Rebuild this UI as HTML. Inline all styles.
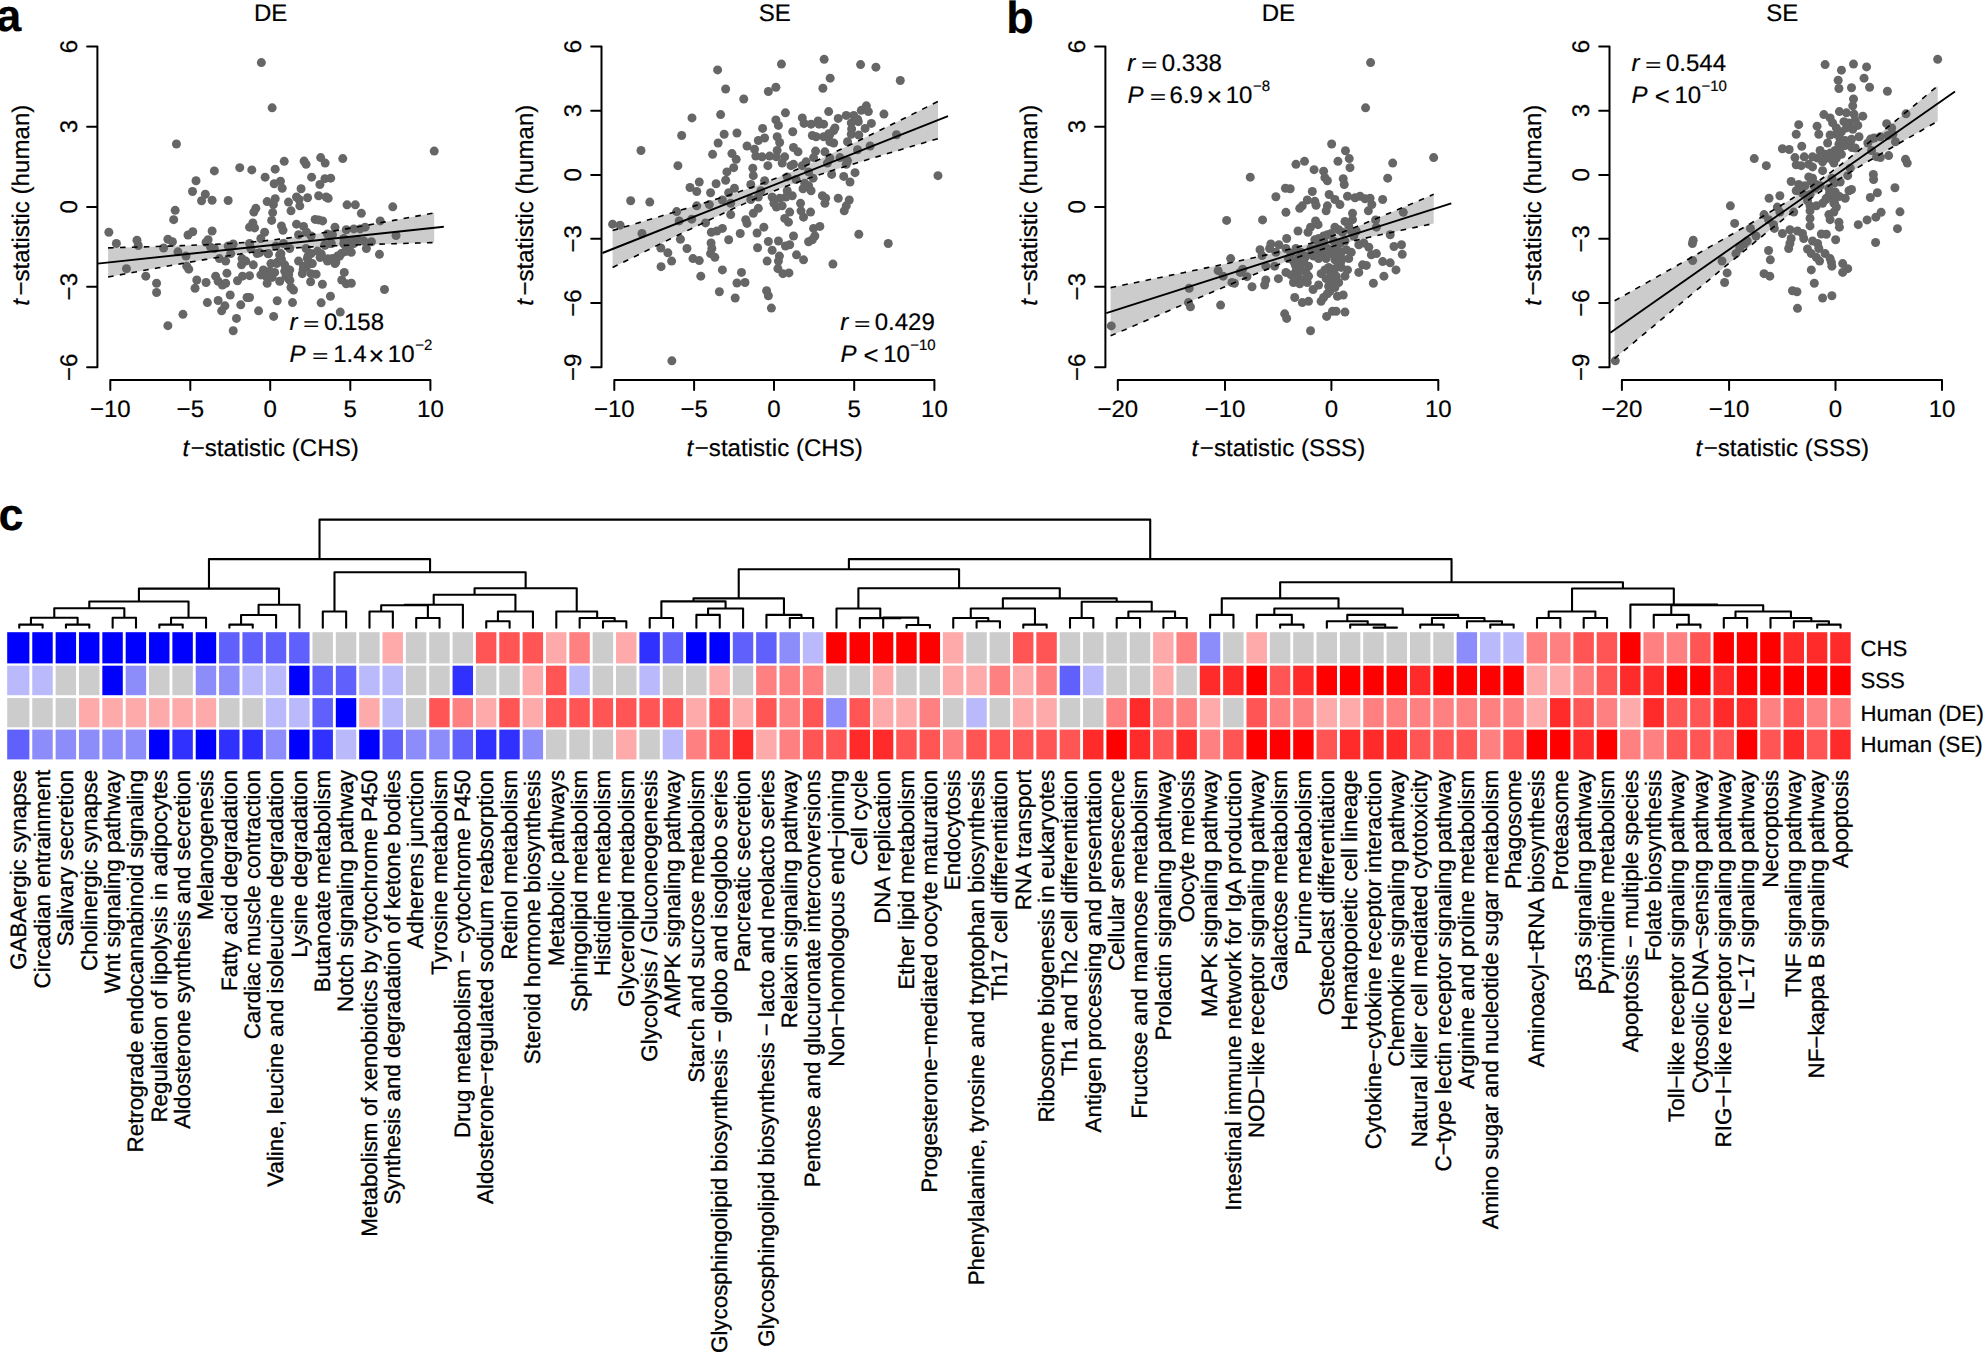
<!DOCTYPE html>
<html><head><meta charset="utf-8"><title>Figure</title>
<style>html,body{margin:0;padding:0;background:#fff;overflow:hidden}svg{display:block}text{stroke:#000;stroke-width:.2px}.lab text{stroke-width:.3px}</style></head>
<body>
<svg width="1986" height="1353" viewBox="0 0 1986 1353" font-family='"Liberation Sans", sans-serif' font-size="24" fill="#000" text-rendering="geometricPrecision">
<rect width="1986" height="1353" fill="#fff"/>
<g id="aDE">
<polygon points="108.1,247.86 116.25,247.64 124.41,247.42 132.56,247.19 140.71,246.95 148.86,246.71 157.01,246.46 165.17,246.2 173.32,245.93 181.47,245.65 189.62,245.34 197.78,245.02 205.93,244.68 214.08,244.3 222.24,243.89 230.39,243.43 238.54,242.92 246.69,242.34 254.84,241.68 263,240.93 271.15,240.09 279.3,239.16 287.46,238.13 295.61,237.02 303.76,235.84 311.91,234.59 320.06,233.3 328.22,231.96 336.37,230.58 344.52,229.18 352.67,227.76 360.83,226.31 368.98,224.86 377.13,223.39 385.29,221.9 393.44,220.41 401.59,218.91 409.74,217.41 417.89,215.9 426.05,214.38 434.2,212.87 434.2,242.58 426.05,242.8 417.89,243.02 409.74,243.25 401.59,243.48 393.44,243.72 385.29,243.97 377.13,244.22 368.98,244.49 360.83,244.77 352.67,245.06 344.52,245.38 336.37,245.71 328.22,246.07 320.06,246.47 311.91,246.91 303.76,247.4 295.61,247.96 287.46,248.58 279.3,249.3 271.15,250.1 263,251 254.84,251.99 246.69,253.07 238.54,254.23 230.39,255.45 222.24,256.73 214.08,258.05 205.93,259.41 197.78,260.81 189.62,262.22 181.47,263.66 173.32,265.11 165.17,266.58 157.01,268.06 148.86,269.54 140.71,271.04 132.56,272.54 124.41,274.05 116.25,275.56 108.1,277.08" fill="#cccccc"/>
<g fill="#666666">
<circle cx="261.36" cy="62.61" r="4.5"/><circle cx="272.16" cy="107.84" r="4.5"/><circle cx="176.43" cy="144.02" r="4.5"/><circle cx="434.22" cy="151.06" r="4.5"/><circle cx="342.76" cy="158.59" r="4.5"/><circle cx="320.65" cy="157.59" r="4.5"/><circle cx="325.18" cy="163.12" r="4.5"/><circle cx="304.07" cy="161.11" r="4.5"/><circle cx="306.08" cy="164.37" r="4.5"/><circle cx="284.22" cy="161.36" r="4.5"/><circle cx="275.18" cy="169.15" r="4.5"/><circle cx="239.75" cy="167.64" r="4.5"/><circle cx="251.81" cy="169.9" r="4.5"/><circle cx="214.37" cy="170.9" r="4.5"/><circle cx="196.03" cy="180.7" r="4.5"/><circle cx="265.13" cy="177.19" r="4.5"/><circle cx="280.45" cy="181.21" r="4.5"/><circle cx="274.17" cy="183.72" r="4.5"/><circle cx="282.21" cy="188.24" r="4.5"/><circle cx="311.61" cy="177.19" r="4.5"/><circle cx="324.92" cy="178.69" r="4.5"/><circle cx="330.7" cy="178.19" r="4.5"/><circle cx="319.9" cy="184.47" r="4.5"/><circle cx="301.06" cy="188.74" r="4.5"/><circle cx="192.51" cy="191.51" r="4.5"/><circle cx="205.33" cy="194.27" r="4.5"/><circle cx="201.56" cy="200.8" r="4.5"/><circle cx="212.11" cy="200.3" r="4.5"/><circle cx="228.19" cy="200.55" r="4.5"/><circle cx="275.18" cy="198.79" r="4.5"/><circle cx="267.14" cy="201.56" r="4.5"/><circle cx="273.42" cy="204.57" r="4.5"/><circle cx="288.49" cy="202.06" r="4.5"/><circle cx="296.53" cy="197.04" r="4.5"/><circle cx="299.05" cy="199.55" r="4.5"/><circle cx="307.59" cy="197.79" r="4.5"/><circle cx="299.8" cy="205.83" r="4.5"/><circle cx="318.64" cy="195.78" r="4.5"/><circle cx="326.18" cy="197.04" r="4.5"/><circle cx="328.19" cy="198.29" r="4.5"/><circle cx="347.04" cy="204.82" r="4.5"/><circle cx="355.33" cy="204.82" r="4.5"/><circle cx="392.76" cy="206.83" r="4.5"/><circle cx="361.36" cy="213.37" r="4.5"/><circle cx="255.83" cy="208.34" r="4.5"/><circle cx="253.82" cy="212.11" r="4.5"/><circle cx="272.66" cy="212.61" r="4.5"/><circle cx="291.01" cy="210.85" r="4.5"/><circle cx="175.18" cy="210.35" r="4.5"/><circle cx="173.67" cy="219.65" r="4.5"/><circle cx="271.66" cy="220.4" r="4.5"/><circle cx="315.13" cy="219.4" r="4.5"/><circle cx="318.64" cy="219.9" r="4.5"/><circle cx="322.66" cy="220.9" r="4.5"/><circle cx="296.53" cy="224.17" r="4.5"/><circle cx="303.57" cy="226.43" r="4.5"/><circle cx="281.46" cy="225.93" r="4.5"/><circle cx="282.96" cy="230.2" r="4.5"/><circle cx="252.81" cy="222.91" r="4.5"/><circle cx="249.55" cy="227.19" r="4.5"/><circle cx="254.57" cy="227.94" r="4.5"/><circle cx="380.2" cy="220.9" r="4.5"/><circle cx="334.97" cy="227.19" r="4.5"/><circle cx="365.13" cy="227.19" r="4.5"/><circle cx="346.28" cy="229.7" r="4.5"/><circle cx="353.82" cy="228.94" r="4.5"/><circle cx="360.1" cy="228.94" r="4.5"/><circle cx="108.84" cy="232.21" r="4.5"/><circle cx="116.38" cy="243.52" r="4.5"/><circle cx="136.98" cy="240.25" r="4.5"/><circle cx="138.24" cy="245.53" r="4.5"/><circle cx="167.89" cy="239.25" r="4.5"/><circle cx="172.41" cy="241.76" r="4.5"/><circle cx="163.62" cy="248.04" r="4.5"/><circle cx="192.76" cy="231.71" r="4.5"/><circle cx="187.99" cy="234.97" r="4.5"/><circle cx="212.11" cy="230.95" r="4.5"/><circle cx="208.09" cy="239.75" r="4.5"/><circle cx="206.08" cy="242.26" r="4.5"/><circle cx="264.62" cy="232.21" r="4.5"/><circle cx="260.85" cy="238.49" r="4.5"/><circle cx="298.54" cy="234.72" r="4.5"/><circle cx="306.58" cy="232.21" r="4.5"/><circle cx="311.11" cy="235.98" r="4.5"/><circle cx="327.44" cy="233.97" r="4.5"/><circle cx="332.46" cy="234.72" r="4.5"/><circle cx="343.77" cy="238.49" r="4.5"/><circle cx="351.31" cy="241.01" r="4.5"/><circle cx="357.59" cy="239.75" r="4.5"/><circle cx="363.87" cy="241.01" r="4.5"/><circle cx="371.41" cy="241.76" r="4.5"/><circle cx="396.03" cy="235.48" r="4.5"/><circle cx="366.38" cy="248.54" r="4.5"/><circle cx="379.45" cy="254.32" r="4.5"/><circle cx="177.94" cy="251.81" r="4.5"/><circle cx="185.98" cy="256.08" r="4.5"/><circle cx="126.43" cy="268.64" r="4.5"/><circle cx="188.74" cy="269.15" r="4.5"/><circle cx="186.73" cy="266.13" r="4.5"/><circle cx="145.78" cy="276.18" r="4.5"/><circle cx="156.58" cy="283.22" r="4.5"/><circle cx="156.58" cy="292.51" r="4.5"/><circle cx="196.78" cy="279.95" r="4.5"/><circle cx="195.03" cy="288.24" r="4.5"/><circle cx="206.08" cy="282.46" r="4.5"/><circle cx="215.63" cy="276.18" r="4.5"/><circle cx="218.14" cy="281.21" r="4.5"/><circle cx="222.41" cy="284.97" r="4.5"/><circle cx="225.68" cy="283.22" r="4.5"/><circle cx="226.93" cy="273.17" r="4.5"/><circle cx="219.4" cy="258.59" r="4.5"/><circle cx="225.68" cy="261.11" r="4.5"/><circle cx="230.7" cy="253.57" r="4.5"/><circle cx="228.19" cy="246.03" r="4.5"/><circle cx="233.22" cy="244.02" r="4.5"/><circle cx="214.37" cy="248.54" r="4.5"/><circle cx="210.6" cy="247.29" r="4.5"/><circle cx="242.01" cy="258.59" r="4.5"/><circle cx="245.78" cy="261.11" r="4.5"/><circle cx="241.51" cy="264.87" r="4.5"/><circle cx="253.32" cy="264.87" r="4.5"/><circle cx="250.8" cy="248.54" r="4.5"/><circle cx="257.09" cy="253.57" r="4.5"/><circle cx="249.55" cy="243.52" r="4.5"/><circle cx="268.39" cy="253.57" r="4.5"/><circle cx="275.93" cy="246.03" r="4.5"/><circle cx="280.95" cy="253.57" r="4.5"/><circle cx="283.47" cy="243.52" r="4.5"/><circle cx="289.75" cy="248.54" r="4.5"/><circle cx="270.9" cy="263.62" r="4.5"/><circle cx="277.19" cy="262.36" r="4.5"/><circle cx="284.72" cy="264.87" r="4.5"/><circle cx="263.37" cy="269.9" r="4.5"/><circle cx="269.65" cy="271.16" r="4.5"/><circle cx="274.67" cy="272.41" r="4.5"/><circle cx="260.85" cy="274.92" r="4.5"/><circle cx="265.88" cy="276.18" r="4.5"/><circle cx="272.16" cy="277.44" r="4.5"/><circle cx="284.72" cy="271.16" r="4.5"/><circle cx="289.75" cy="269.9" r="4.5"/><circle cx="285.98" cy="276.18" r="4.5"/><circle cx="279.7" cy="281.21" r="4.5"/><circle cx="288.49" cy="278.69" r="4.5"/><circle cx="267.14" cy="283.22" r="4.5"/><circle cx="291.01" cy="287.49" r="4.5"/><circle cx="293.52" cy="290" r="4.5"/><circle cx="237.49" cy="280.7" r="4.5"/><circle cx="242.51" cy="276.18" r="4.5"/><circle cx="249.55" cy="275.68" r="4.5"/><circle cx="298.54" cy="261.11" r="4.5"/><circle cx="303.57" cy="266.13" r="4.5"/><circle cx="307.34" cy="258.59" r="4.5"/><circle cx="312.36" cy="263.62" r="4.5"/><circle cx="306.08" cy="248.54" r="4.5"/><circle cx="311.11" cy="253.57" r="4.5"/><circle cx="317.39" cy="251.06" r="4.5"/><circle cx="321.16" cy="256.08" r="4.5"/><circle cx="327.44" cy="261.11" r="4.5"/><circle cx="332.46" cy="258.59" r="4.5"/><circle cx="337.49" cy="256.08" r="4.5"/><circle cx="334.97" cy="263.62" r="4.5"/><circle cx="341.26" cy="253.57" r="4.5"/><circle cx="346.28" cy="251.06" r="4.5"/><circle cx="351.31" cy="252.31" r="4.5"/><circle cx="343.77" cy="243.52" r="4.5"/><circle cx="348.79" cy="246.03" r="4.5"/><circle cx="353.82" cy="243.52" r="4.5"/><circle cx="331.21" cy="243.52" r="4.5"/><circle cx="324.92" cy="244.77" r="4.5"/><circle cx="302.31" cy="273.67" r="4.5"/><circle cx="311.11" cy="273.67" r="4.5"/><circle cx="316.13" cy="274.17" r="4.5"/><circle cx="310.6" cy="281.71" r="4.5"/><circle cx="322.41" cy="284.22" r="4.5"/><circle cx="344.27" cy="272.41" r="4.5"/><circle cx="341.76" cy="279.95" r="4.5"/><circle cx="346.28" cy="283.72" r="4.5"/><circle cx="351.31" cy="283.22" r="4.5"/><circle cx="384.47" cy="289.5" r="4.5"/><circle cx="330.45" cy="296.28" r="4.5"/><circle cx="321.16" cy="302.81" r="4.5"/><circle cx="292.51" cy="302.56" r="4.5"/><circle cx="277.19" cy="300.8" r="4.5"/><circle cx="230.2" cy="295.03" r="4.5"/><circle cx="247.04" cy="297.54" r="4.5"/><circle cx="249.55" cy="297.54" r="4.5"/><circle cx="240.75" cy="304.82" r="4.5"/><circle cx="218.14" cy="300.55" r="4.5"/><circle cx="224.92" cy="305.83" r="4.5"/><circle cx="221.66" cy="310.85" r="4.5"/><circle cx="207.34" cy="302.56" r="4.5"/><circle cx="182.96" cy="314.37" r="4.5"/><circle cx="167.89" cy="325.68" r="4.5"/><circle cx="236.48" cy="318.39" r="4.5"/><circle cx="233.22" cy="330.7" r="4.5"/><circle cx="258.59" cy="310.85" r="4.5"/><circle cx="273.67" cy="316.38" r="4.5"/><circle cx="340.25" cy="312.11" r="4.5"/><circle cx="279.61" cy="255.05" r="4.5"/><circle cx="281.42" cy="259.27" r="4.5"/><circle cx="276.59" cy="263.5" r="4.5"/><circle cx="286.25" cy="268.34" r="4.5"/><circle cx="288.67" cy="274.38" r="4.5"/><circle cx="289.88" cy="280.42" r="4.5"/><circle cx="308.01" cy="256.25" r="4.5"/><circle cx="310.42" cy="263.5" r="4.5"/><circle cx="306.19" cy="267.13" r="4.5"/><circle cx="303.17" cy="269.55" r="4.5"/><circle cx="321.3" cy="253.84" r="4.5"/><circle cx="320.09" cy="257.46" r="4.5"/><circle cx="327.95" cy="258.67" r="4.5"/><circle cx="335.8" cy="262.3" r="4.5"/><circle cx="339.43" cy="256.25" r="4.5"/><circle cx="345.47" cy="251.42" r="4.5"/><circle cx="349.09" cy="247.79" r="4.5"/><circle cx="344.26" cy="244.17" r="4.5"/><circle cx="352.72" cy="241.15" r="4.5"/><circle cx="324.92" cy="245.38" r="4.5"/><circle cx="330.97" cy="243.56" r="4.5"/><circle cx="259.67" cy="252.63" r="4.5"/><circle cx="268.13" cy="253.84" r="4.5"/>
</g>
<path d="M108.1 247.86 L116.25 247.64 L124.41 247.42 L132.56 247.19 L140.71 246.95 L148.86 246.71 L157.01 246.46 L165.17 246.2 L173.32 245.93 L181.47 245.65 L189.62 245.34 L197.78 245.02 L205.93 244.68 L214.08 244.3 L222.24 243.89 L230.39 243.43 L238.54 242.92 L246.69 242.34 L254.84 241.68 L263 240.93 L271.15 240.09 L279.3 239.16 L287.46 238.13 L295.61 237.02 L303.76 235.84 L311.91 234.59 L320.06 233.3 L328.22 231.96 L336.37 230.58 L344.52 229.18 L352.67 227.76 L360.83 226.31 L368.98 224.86 L377.13 223.39 L385.29 221.9 L393.44 220.41 L401.59 218.91 L409.74 217.41 L417.89 215.9 L426.05 214.38 L434.2 212.87" fill="none" stroke="#000" stroke-width="1.6" stroke-dasharray="5.6 6.3"/>
<path d="M108.1 277.08 L116.25 275.56 L124.41 274.05 L132.56 272.54 L140.71 271.04 L148.86 269.54 L157.01 268.06 L165.17 266.58 L173.32 265.11 L181.47 263.66 L189.62 262.22 L197.78 260.81 L205.93 259.41 L214.08 258.05 L222.24 256.73 L230.39 255.45 L238.54 254.23 L246.69 253.07 L254.84 251.99 L263 251 L271.15 250.1 L279.3 249.3 L287.46 248.58 L295.61 247.96 L303.76 247.4 L311.91 246.91 L320.06 246.47 L328.22 246.07 L336.37 245.71 L344.52 245.38 L352.67 245.06 L360.83 244.77 L368.98 244.49 L377.13 244.22 L385.29 243.97 L393.44 243.72 L401.59 243.48 L409.74 243.25 L417.89 243.02 L426.05 242.8 L434.2 242.58" fill="none" stroke="#000" stroke-width="1.6" stroke-dasharray="5.6 6.3"/>
<line x1="97.5" y1="263.6" x2="443.8" y2="226.7" stroke="#000" stroke-width="1.9"/>
<path d="M87.1 46.5 H97.4 V367.3 H87.1 M87.1 126.7 H97.4 M87.1 206.9 H97.4 M87.1 286.7 H97.4 M110.3 389.9 V379.9 H430.4 V389.9 M190.3 379.9 V389.9 M270.2 379.9 V389.9 M350.3 379.9 V389.9" fill="none" stroke="#000" stroke-width="2" stroke-linejoin="round" stroke-linecap="round"/>
<text x="110.3" y="416.5" text-anchor="middle">−10</text>
<text x="190.3" y="416.5" text-anchor="middle">−5</text>
<text x="270.2" y="416.5" text-anchor="middle">0</text>
<text x="350.3" y="416.5" text-anchor="middle">5</text>
<text x="430.4" y="416.5" text-anchor="middle">10</text>
<text transform="translate(77.2 46.5) rotate(-90)" text-anchor="middle">6</text>
<text transform="translate(77.2 126.7) rotate(-90)" text-anchor="middle">3</text>
<text transform="translate(77.2 206.9) rotate(-90)" text-anchor="middle">0</text>
<text transform="translate(77.2 286.7) rotate(-90)" text-anchor="middle">−3</text>
<text transform="translate(77.2 367.3) rotate(-90)" text-anchor="middle">−6</text>
<text x="270.6" y="20.6" text-anchor="middle">DE</text>
<text x="182.5" y="456.3" font-size="24.1" font-style="italic">t</text>
<text x="190.75" y="456.3" font-size="24.1">−statistic (CHS)</text>
<text transform="translate(29.3 305.68) rotate(-90)" font-size="24.1" font-style="italic">t</text>
<text transform="translate(29.3 295.5) rotate(-90)" font-size="24.1">−statistic (human)</text>
<text x="289.38" y="329.6" font-style="italic">r</text>
<text transform="translate(303.33 329.6) scale(1.52 1)" font-size="18">=</text>
<text x="323.94" y="329.6">0.158</text>
<text x="289.58" y="361.8" font-style="italic">P</text>
<text transform="translate(312.13 361.8) scale(1.52 1)" font-size="18">=</text>
<text x="333.2" y="361.8">1.4</text>
<text x="368.51" y="364.8" font-size="27">×</text>
<text x="387.8" y="361.8">10</text>
<text x="415.15" y="349.7" font-size="15">−2</text>
</g>
<g id="aSE">
<polygon points="612.6,230.44 620.74,228.05 628.87,225.65 637,223.24 645.14,220.83 653.27,218.41 661.41,215.98 669.55,213.54 677.68,211.09 685.82,208.62 693.95,206.13 702.09,203.62 710.22,201.08 718.36,198.51 726.49,195.89 734.62,193.22 742.76,190.48 750.89,187.65 759.03,184.73 767.16,181.69 775.3,178.53 783.43,175.24 791.57,171.83 799.71,168.3 807.84,164.68 815.98,160.97 824.11,157.2 832.25,153.37 840.38,149.49 848.51,145.59 856.65,141.65 864.79,137.69 872.92,133.71 881.06,129.71 889.19,125.71 897.33,121.69 905.46,117.66 913.6,113.63 921.73,109.58 929.87,105.54 938,101.48 938,138.64 929.87,141.03 921.73,143.43 913.6,145.84 905.46,148.25 897.33,150.67 889.19,153.1 881.06,155.54 872.92,157.99 864.79,160.46 856.65,162.94 848.51,165.45 840.38,167.99 832.25,170.57 824.11,173.18 815.98,175.86 807.84,178.6 799.71,181.42 791.57,184.34 783.43,187.37 775.3,190.53 767.16,193.82 759.03,197.23 750.89,200.75 742.76,204.37 734.62,208.08 726.49,211.85 718.36,215.68 710.22,219.55 702.09,223.46 693.95,227.39 685.82,231.35 677.68,235.33 669.55,239.33 661.41,243.33 653.27,247.35 645.14,251.38 637,255.41 628.87,259.46 620.74,263.5 612.6,267.56" fill="#cccccc"/>
<g fill="#666666">
<circle cx="824.15" cy="59.35" r="4.5"/><circle cx="781.43" cy="64.12" r="4.5"/><circle cx="860.58" cy="64.62" r="4.5"/><circle cx="875.9" cy="67.14" r="4.5"/><circle cx="717.61" cy="69.9" r="4.5"/><circle cx="830.18" cy="78.19" r="4.5"/><circle cx="900.28" cy="80.45" r="4.5"/><circle cx="725.65" cy="88.99" r="4.5"/><circle cx="775.9" cy="87.24" r="4.5"/><circle cx="768.37" cy="91.51" r="4.5"/><circle cx="822.89" cy="88.24" r="4.5"/><circle cx="743.74" cy="99.05" r="4.5"/><circle cx="866.36" cy="105.83" r="4.5"/><circle cx="861.33" cy="110.35" r="4.5"/><circle cx="868.37" cy="111.61" r="4.5"/><circle cx="828.67" cy="111.61" r="4.5"/><circle cx="785.45" cy="112.86" r="4.5"/><circle cx="720.63" cy="114.62" r="4.5"/><circle cx="691.98" cy="117.89" r="4.5"/><circle cx="883.94" cy="114.12" r="4.5"/><circle cx="846.26" cy="115.38" r="4.5"/><circle cx="853.79" cy="115.38" r="4.5"/><circle cx="838.22" cy="118.39" r="4.5"/><circle cx="857.56" cy="119.15" r="4.5"/><circle cx="802.29" cy="117.89" r="4.5"/><circle cx="775.9" cy="119.9" r="4.5"/><circle cx="778.42" cy="125.43" r="4.5"/><circle cx="804.05" cy="123.42" r="4.5"/><circle cx="811.08" cy="124.17" r="4.5"/><circle cx="818.12" cy="120.9" r="4.5"/><circle cx="823.64" cy="124.17" r="4.5"/><circle cx="851.28" cy="122.91" r="4.5"/><circle cx="858.32" cy="121.66" r="4.5"/><circle cx="871.38" cy="123.42" r="4.5"/><circle cx="834.95" cy="127.94" r="4.5"/><circle cx="865.1" cy="128.44" r="4.5"/><circle cx="762.59" cy="128.44" r="4.5"/><circle cx="736.96" cy="132.96" r="4.5"/><circle cx="724.15" cy="134.22" r="4.5"/><circle cx="681.68" cy="135.48" r="4.5"/><circle cx="792.74" cy="131.71" r="4.5"/><circle cx="812.34" cy="135.48" r="4.5"/><circle cx="816.11" cy="136.73" r="4.5"/><circle cx="823.64" cy="136.73" r="4.5"/><circle cx="829.92" cy="134.22" r="4.5"/><circle cx="833.69" cy="130.45" r="4.5"/><circle cx="851.28" cy="134.22" r="4.5"/><circle cx="858.82" cy="134.97" r="4.5"/><circle cx="896.51" cy="134.72" r="4.5"/><circle cx="777.16" cy="136.73" r="4.5"/><circle cx="779.67" cy="142.51" r="4.5"/><circle cx="764.6" cy="137.99" r="4.5"/><circle cx="758.32" cy="140.5" r="4.5"/><circle cx="718.12" cy="143.02" r="4.5"/><circle cx="747.01" cy="146.03" r="4.5"/><circle cx="829.92" cy="141.76" r="4.5"/><circle cx="833.69" cy="143.02" r="4.5"/><circle cx="847.51" cy="141.76" r="4.5"/><circle cx="870.13" cy="146.03" r="4.5"/><circle cx="793.49" cy="147.54" r="4.5"/><circle cx="798.02" cy="151.81" r="4.5"/><circle cx="754.55" cy="149.3" r="4.5"/><circle cx="755.8" cy="156.08" r="4.5"/><circle cx="762.09" cy="156.83" r="4.5"/><circle cx="769.62" cy="156.08" r="4.5"/><circle cx="777.16" cy="150.55" r="4.5"/><circle cx="776.41" cy="156.83" r="4.5"/><circle cx="784.7" cy="156.83" r="4.5"/><circle cx="782.19" cy="163.12" r="4.5"/><circle cx="731.93" cy="153.57" r="4.5"/><circle cx="712.59" cy="154.32" r="4.5"/><circle cx="640.98" cy="150.55" r="4.5"/><circle cx="736.21" cy="159.35" r="4.5"/><circle cx="815.6" cy="151.06" r="4.5"/><circle cx="824.9" cy="151.81" r="4.5"/><circle cx="857.56" cy="149.8" r="4.5"/><circle cx="813.59" cy="157.59" r="4.5"/><circle cx="806.06" cy="161.86" r="4.5"/><circle cx="829.92" cy="158.09" r="4.5"/><circle cx="839.97" cy="157.59" r="4.5"/><circle cx="847.51" cy="160.6" r="4.5"/><circle cx="827.41" cy="163.12" r="4.5"/><circle cx="793.49" cy="164.37" r="4.5"/><circle cx="790.98" cy="165.63" r="4.5"/><circle cx="802.29" cy="165.63" r="4.5"/><circle cx="767.86" cy="165.63" r="4.5"/><circle cx="752.79" cy="168.14" r="4.5"/><circle cx="677.91" cy="165.63" r="4.5"/><circle cx="733.69" cy="167.64" r="4.5"/><circle cx="726.91" cy="171.91" r="4.5"/><circle cx="846.26" cy="164.37" r="4.5"/><circle cx="855.05" cy="172.66" r="4.5"/><circle cx="831.68" cy="174.42" r="4.5"/><circle cx="843.74" cy="176.43" r="4.5"/><circle cx="850.03" cy="181.96" r="4.5"/><circle cx="753.29" cy="175.68" r="4.5"/><circle cx="725.65" cy="180.2" r="4.5"/><circle cx="764.6" cy="180.7" r="4.5"/><circle cx="787.21" cy="176.93" r="4.5"/><circle cx="796.01" cy="179.45" r="4.5"/><circle cx="808.57" cy="171.91" r="4.5"/><circle cx="813.09" cy="178.19" r="4.5"/><circle cx="804.8" cy="183.22" r="4.5"/><circle cx="808.57" cy="185.73" r="4.5"/><circle cx="811.08" cy="190.75" r="4.5"/><circle cx="803.04" cy="188.74" r="4.5"/><circle cx="699.27" cy="181.96" r="4.5"/><circle cx="716.11" cy="183.72" r="4.5"/><circle cx="689.97" cy="187.49" r="4.5"/><circle cx="696.76" cy="191.51" r="4.5"/><circle cx="710.58" cy="192.76" r="4.5"/><circle cx="734.45" cy="188.24" r="4.5"/><circle cx="750.78" cy="184.47" r="4.5"/><circle cx="728.67" cy="192.76" r="4.5"/><circle cx="760.83" cy="190.75" r="4.5"/><circle cx="758.32" cy="197.04" r="4.5"/><circle cx="750.78" cy="199.55" r="4.5"/><circle cx="787.21" cy="190.75" r="4.5"/><circle cx="792.24" cy="195.78" r="4.5"/><circle cx="785.95" cy="197.04" r="4.5"/><circle cx="772.14" cy="197.04" r="4.5"/><circle cx="779.67" cy="198.29" r="4.5"/><circle cx="773.89" cy="203.32" r="4.5"/><circle cx="776.41" cy="207.09" r="4.5"/><circle cx="782.19" cy="205.83" r="4.5"/><circle cx="789.72" cy="212.11" r="4.5"/><circle cx="822.39" cy="195.78" r="4.5"/><circle cx="825.65" cy="198.29" r="4.5"/><circle cx="824.9" cy="203.32" r="4.5"/><circle cx="838.22" cy="198.29" r="4.5"/><circle cx="849.27" cy="200.05" r="4.5"/><circle cx="846.26" cy="205.83" r="4.5"/><circle cx="844.25" cy="210.85" r="4.5"/><circle cx="800.53" cy="203.32" r="4.5"/><circle cx="801.03" cy="210.85" r="4.5"/><circle cx="803.54" cy="217.14" r="4.5"/><circle cx="810.58" cy="212.11" r="4.5"/><circle cx="722.39" cy="200.05" r="4.5"/><circle cx="730.68" cy="203.32" r="4.5"/><circle cx="709.32" cy="204.57" r="4.5"/><circle cx="696.76" cy="205.83" r="4.5"/><circle cx="676.66" cy="211.61" r="4.5"/><circle cx="679.17" cy="220.9" r="4.5"/><circle cx="691.73" cy="219.15" r="4.5"/><circle cx="705.55" cy="222.91" r="4.5"/><circle cx="730.68" cy="214.62" r="4.5"/><circle cx="758.32" cy="208.34" r="4.5"/><circle cx="753.29" cy="213.37" r="4.5"/><circle cx="745.75" cy="219.65" r="4.5"/><circle cx="747.01" cy="223.42" r="4.5"/><circle cx="784.7" cy="218.39" r="4.5"/><circle cx="788.47" cy="222.16" r="4.5"/><circle cx="819.87" cy="226.43" r="4.5"/><circle cx="813.59" cy="228.44" r="4.5"/><circle cx="763.84" cy="227.19" r="4.5"/><circle cx="757.06" cy="232.96" r="4.5"/><circle cx="722.39" cy="228.44" r="4.5"/><circle cx="716.86" cy="230.95" r="4.5"/><circle cx="711.33" cy="232.21" r="4.5"/><circle cx="740.23" cy="233.47" r="4.5"/><circle cx="728.67" cy="239.75" r="4.5"/><circle cx="680.43" cy="239.25" r="4.5"/><circle cx="630.68" cy="200.8" r="4.5"/><circle cx="649.77" cy="202.06" r="4.5"/><circle cx="612.59" cy="224.17" r="4.5"/><circle cx="620.13" cy="225.18" r="4.5"/><circle cx="641.98" cy="233.47" r="4.5"/><circle cx="937.96" cy="175.68" r="4.5"/><circle cx="858.82" cy="234.22" r="4.5"/><circle cx="888.22" cy="243.52" r="4.5"/><circle cx="793.49" cy="235.98" r="4.5"/><circle cx="814.85" cy="235.98" r="4.5"/><circle cx="812.34" cy="239.75" r="4.5"/><circle cx="808.57" cy="241.76" r="4.5"/><circle cx="778.42" cy="241.01" r="4.5"/><circle cx="768.37" cy="241.51" r="4.5"/><circle cx="789.72" cy="244.77" r="4.5"/><circle cx="785.45" cy="246.03" r="4.5"/><circle cx="757.56" cy="247.79" r="4.5"/><circle cx="772.14" cy="250.3" r="4.5"/><circle cx="711.08" cy="243.02" r="4.5"/><circle cx="711.83" cy="248.54" r="4.5"/><circle cx="710.58" cy="253.57" r="4.5"/><circle cx="714.85" cy="257.34" r="4.5"/><circle cx="686.96" cy="248.54" r="4.5"/><circle cx="692.99" cy="258.59" r="4.5"/><circle cx="699.27" cy="260.6" r="4.5"/><circle cx="660.83" cy="248.04" r="4.5"/><circle cx="667.86" cy="252.81" r="4.5"/><circle cx="671.63" cy="261.11" r="4.5"/><circle cx="661.08" cy="266.63" r="4.5"/><circle cx="779.42" cy="256.08" r="4.5"/><circle cx="778.42" cy="261.11" r="4.5"/><circle cx="767.11" cy="261.11" r="4.5"/><circle cx="796.51" cy="254.82" r="4.5"/><circle cx="803.54" cy="259.85" r="4.5"/><circle cx="832.94" cy="264.12" r="4.5"/><circle cx="777.91" cy="268.64" r="4.5"/><circle cx="782.94" cy="273.67" r="4.5"/><circle cx="788.97" cy="272.91" r="4.5"/><circle cx="722.39" cy="269.9" r="4.5"/><circle cx="741.48" cy="272.41" r="4.5"/><circle cx="700.78" cy="276.18" r="4.5"/><circle cx="736.96" cy="282.96" r="4.5"/><circle cx="745" cy="282.46" r="4.5"/><circle cx="719.37" cy="291.76" r="4.5"/><circle cx="735.2" cy="298.04" r="4.5"/><circle cx="766.61" cy="290.75" r="4.5"/><circle cx="768.37" cy="295.78" r="4.5"/><circle cx="771.38" cy="308.09" r="4.5"/><circle cx="671.88" cy="360.85" r="4.5"/><circle cx="855.86" cy="119.94" r="4.5"/><circle cx="851.63" cy="129" r="4.5"/><circle cx="828.67" cy="133.84" r="4.5"/><circle cx="819" cy="124.17" r="4.5"/>
</g>
<path d="M612.6 230.44 L620.74 228.05 L628.87 225.65 L637 223.24 L645.14 220.83 L653.27 218.41 L661.41 215.98 L669.55 213.54 L677.68 211.09 L685.82 208.62 L693.95 206.13 L702.09 203.62 L710.22 201.08 L718.36 198.51 L726.49 195.89 L734.62 193.22 L742.76 190.48 L750.89 187.65 L759.03 184.73 L767.16 181.69 L775.3 178.53 L783.43 175.24 L791.57 171.83 L799.71 168.3 L807.84 164.68 L815.98 160.97 L824.11 157.2 L832.25 153.37 L840.38 149.49 L848.51 145.59 L856.65 141.65 L864.79 137.69 L872.92 133.71 L881.06 129.71 L889.19 125.71 L897.33 121.69 L905.46 117.66 L913.6 113.63 L921.73 109.58 L929.87 105.54 L938 101.48" fill="none" stroke="#000" stroke-width="1.6" stroke-dasharray="5.6 6.3"/>
<path d="M612.6 267.56 L620.74 263.5 L628.87 259.46 L637 255.41 L645.14 251.38 L653.27 247.35 L661.41 243.33 L669.55 239.33 L677.68 235.33 L685.82 231.35 L693.95 227.39 L702.09 223.46 L710.22 219.55 L718.36 215.68 L726.49 211.85 L734.62 208.08 L742.76 204.37 L750.89 200.75 L759.03 197.23 L767.16 193.82 L775.3 190.53 L783.43 187.37 L791.57 184.34 L799.71 181.42 L807.84 178.6 L815.98 175.86 L824.11 173.18 L832.25 170.57 L840.38 167.99 L848.51 165.45 L856.65 162.94 L864.79 160.46 L872.92 157.99 L881.06 155.54 L889.19 153.1 L897.33 150.67 L905.46 148.25 L913.6 145.84 L921.73 143.43 L929.87 141.03 L938 138.64" fill="none" stroke="#000" stroke-width="1.6" stroke-dasharray="5.6 6.3"/>
<line x1="602.5" y1="253" x2="948" y2="116.1" stroke="#000" stroke-width="1.9"/>
<path d="M591.2 46.5 H601.5 V367.3 H591.2 M591.2 110.7 H601.5 M591.2 174.9 H601.5 M591.2 238.8 H601.5 M591.2 303 H601.5 M614.3 389.9 V379.9 H934.4 V389.9 M694.1 379.9 V389.9 M774 379.9 V389.9 M854.2 379.9 V389.9" fill="none" stroke="#000" stroke-width="2" stroke-linejoin="round" stroke-linecap="round"/>
<text x="614.3" y="416.5" text-anchor="middle">−10</text>
<text x="694.1" y="416.5" text-anchor="middle">−5</text>
<text x="774" y="416.5" text-anchor="middle">0</text>
<text x="854.2" y="416.5" text-anchor="middle">5</text>
<text x="934.4" y="416.5" text-anchor="middle">10</text>
<text transform="translate(581.3 46.5) rotate(-90)" text-anchor="middle">6</text>
<text transform="translate(581.3 110.7) rotate(-90)" text-anchor="middle">3</text>
<text transform="translate(581.3 174.9) rotate(-90)" text-anchor="middle">0</text>
<text transform="translate(581.3 238.8) rotate(-90)" text-anchor="middle">−3</text>
<text transform="translate(581.3 303) rotate(-90)" text-anchor="middle">−6</text>
<text transform="translate(581.3 367.3) rotate(-90)" text-anchor="middle">−9</text>
<text x="774.65" y="20.6" text-anchor="middle">SE</text>
<text x="686.55" y="456.3" font-size="24.1" font-style="italic">t</text>
<text x="694.8" y="456.3" font-size="24.1">−statistic (CHS)</text>
<text transform="translate(533.4 305.68) rotate(-90)" font-size="24.1" font-style="italic">t</text>
<text transform="translate(533.4 295.5) rotate(-90)" font-size="24.1">−statistic (human)</text>
<text x="840.18" y="329.6" font-style="italic">r</text>
<text transform="translate(854.13 329.6) scale(1.52 1)" font-size="18">=</text>
<text x="874.74" y="329.6">0.429</text>
<text x="840.38" y="361.8" font-style="italic">P</text>
<text x="863.52" y="364.2" font-size="25.6">&lt;</text>
<text x="883.2" y="361.8">10</text>
<text x="910.25" y="349.7" font-size="15">−10</text>
</g>
<g id="bDE">
<polygon points="1110.6,287.63 1118.68,285.97 1126.75,284.32 1134.83,282.66 1142.91,281 1150.99,279.34 1159.06,277.68 1167.14,276.01 1175.22,274.34 1183.3,272.67 1191.38,270.99 1199.45,269.3 1207.53,267.61 1215.61,265.91 1223.68,264.2 1231.76,262.48 1239.84,260.74 1247.92,258.98 1255.99,257.2 1264.07,255.38 1272.15,253.51 1280.23,251.58 1288.31,249.57 1296.38,247.45 1304.46,245.19 1312.54,242.76 1320.62,240.14 1328.69,237.35 1336.77,234.39 1344.85,231.32 1352.92,228.14 1361,224.9 1369.08,221.6 1377.16,218.26 1385.24,214.89 1393.31,211.49 1401.39,208.08 1409.47,204.66 1417.55,201.22 1425.62,197.77 1433.7,194.32 1433.7,223.48 1425.62,225.17 1417.55,226.87 1409.47,228.57 1401.39,230.29 1393.31,232.02 1385.24,233.77 1377.16,235.54 1369.08,237.34 1361,239.18 1352.92,241.08 1344.85,243.04 1336.77,245.11 1328.69,247.3 1320.62,249.64 1312.54,252.17 1304.46,254.88 1296.38,257.76 1288.31,260.78 1280.23,263.91 1272.15,267.12 1264.07,270.4 1255.99,273.72 1247.92,277.07 1239.84,280.46 1231.76,283.86 1223.68,287.28 1215.61,290.71 1207.53,294.15 1199.45,297.6 1191.38,301.06 1183.3,304.52 1175.22,307.99 1167.14,311.46 1159.06,314.94 1150.99,318.41 1142.91,321.89 1134.83,325.38 1126.75,328.86 1118.68,332.35 1110.6,335.84" fill="#cccccc"/>
<g fill="#666666">
<circle cx="1370.6" cy="62.61" r="4.5"/><circle cx="1365.58" cy="107.84" r="4.5"/><circle cx="1331.66" cy="144.02" r="4.5"/><circle cx="1345.48" cy="150.8" r="4.5"/><circle cx="1433.67" cy="157.59" r="4.5"/><circle cx="1349.25" cy="158.59" r="4.5"/><circle cx="1337.94" cy="161.36" r="4.5"/><circle cx="1304.52" cy="161.36" r="4.5"/><circle cx="1295.98" cy="164.37" r="4.5"/><circle cx="1392.71" cy="163.12" r="4.5"/><circle cx="1314.07" cy="169.65" r="4.5"/><circle cx="1323.62" cy="171.16" r="4.5"/><circle cx="1350" cy="167.64" r="4.5"/><circle cx="1387.69" cy="178.19" r="4.5"/><circle cx="1343.22" cy="178.69" r="4.5"/><circle cx="1344.22" cy="184.47" r="4.5"/><circle cx="1324.87" cy="177.69" r="4.5"/><circle cx="1327.39" cy="180.7" r="4.5"/><circle cx="1250.25" cy="177.19" r="4.5"/><circle cx="1285.43" cy="188.24" r="4.5"/><circle cx="1290.2" cy="188.74" r="4.5"/><circle cx="1312.31" cy="191.51" r="4.5"/><circle cx="1275.88" cy="196.78" r="4.5"/><circle cx="1329.15" cy="194.52" r="4.5"/><circle cx="1307.29" cy="200.05" r="4.5"/><circle cx="1314.82" cy="201.31" r="4.5"/><circle cx="1316.08" cy="205.33" r="4.5"/><circle cx="1302.26" cy="205.83" r="4.5"/><circle cx="1299.75" cy="208.34" r="4.5"/><circle cx="1327.39" cy="205.83" r="4.5"/><circle cx="1326.13" cy="210.85" r="4.5"/><circle cx="1334.92" cy="199.55" r="4.5"/><circle cx="1339.95" cy="204.57" r="4.5"/><circle cx="1347.49" cy="196.28" r="4.5"/><circle cx="1355.03" cy="197.79" r="4.5"/><circle cx="1360.05" cy="196.28" r="4.5"/><circle cx="1365.08" cy="198.79" r="4.5"/><circle cx="1370.1" cy="198.29" r="4.5"/><circle cx="1371.86" cy="204.57" r="4.5"/><circle cx="1368.34" cy="210.85" r="4.5"/><circle cx="1382.66" cy="199.55" r="4.5"/><circle cx="1352.51" cy="213.37" r="4.5"/><circle cx="1285.93" cy="212.36" r="4.5"/><circle cx="1262.56" cy="219.9" r="4.5"/><circle cx="1226.63" cy="220.4" r="4.5"/><circle cx="1403.27" cy="212.36" r="4.5"/><circle cx="1375.63" cy="219.9" r="4.5"/><circle cx="1376.38" cy="227.19" r="4.5"/><circle cx="1315.58" cy="220.9" r="4.5"/><circle cx="1318.09" cy="224.67" r="4.5"/><circle cx="1310.55" cy="227.19" r="4.5"/><circle cx="1308.04" cy="232.21" r="4.5"/><circle cx="1297.99" cy="230.95" r="4.5"/><circle cx="1344.97" cy="221.41" r="4.5"/><circle cx="1348.74" cy="225.93" r="4.5"/><circle cx="1352.51" cy="219.65" r="4.5"/><circle cx="1334.92" cy="227.19" r="4.5"/><circle cx="1338.69" cy="229.7" r="4.5"/><circle cx="1342.46" cy="232.21" r="4.5"/><circle cx="1356.28" cy="230.95" r="4.5"/><circle cx="1353.77" cy="235.98" r="4.5"/><circle cx="1331.16" cy="233.47" r="4.5"/><circle cx="1327.39" cy="234.72" r="4.5"/><circle cx="1323.62" cy="235.98" r="4.5"/><circle cx="1318.59" cy="238.49" r="4.5"/><circle cx="1314.82" cy="239.75" r="4.5"/><circle cx="1286.68" cy="238.49" r="4.5"/><circle cx="1278.89" cy="244.77" r="4.5"/><circle cx="1270.85" cy="244.02" r="4.5"/><circle cx="1269.6" cy="248.54" r="4.5"/><circle cx="1260.05" cy="249.8" r="4.5"/><circle cx="1262.06" cy="255.58" r="4.5"/><circle cx="1275.88" cy="252.31" r="4.5"/><circle cx="1285.93" cy="248.54" r="4.5"/><circle cx="1290.95" cy="253.57" r="4.5"/><circle cx="1295.98" cy="248.54" r="4.5"/><circle cx="1301.01" cy="252.31" r="4.5"/><circle cx="1306.03" cy="256.08" r="4.5"/><circle cx="1311.06" cy="248.54" r="4.5"/><circle cx="1316.08" cy="252.31" r="4.5"/><circle cx="1321.11" cy="254.82" r="4.5"/><circle cx="1326.13" cy="258.59" r="4.5"/><circle cx="1331.16" cy="253.57" r="4.5"/><circle cx="1336.18" cy="248.54" r="4.5"/><circle cx="1341.21" cy="252.31" r="4.5"/><circle cx="1346.23" cy="249.8" r="4.5"/><circle cx="1351.26" cy="252.31" r="4.5"/><circle cx="1339.95" cy="243.52" r="4.5"/><circle cx="1333.67" cy="241.01" r="4.5"/><circle cx="1344.97" cy="241.01" r="4.5"/><circle cx="1358.79" cy="244.77" r="4.5"/><circle cx="1363.82" cy="243.02" r="4.5"/><circle cx="1368.84" cy="247.29" r="4.5"/><circle cx="1371.36" cy="254.82" r="4.5"/><circle cx="1376.38" cy="253.57" r="4.5"/><circle cx="1390.2" cy="234.72" r="4.5"/><circle cx="1393.97" cy="246.53" r="4.5"/><circle cx="1401.51" cy="244.77" r="4.5"/><circle cx="1402.26" cy="254.32" r="4.5"/><circle cx="1382.66" cy="261.61" r="4.5"/><circle cx="1390.2" cy="262.86" r="4.5"/><circle cx="1395.98" cy="269.9" r="4.5"/><circle cx="1383.92" cy="276.18" r="4.5"/><circle cx="1373.37" cy="283.22" r="4.5"/><circle cx="1362.56" cy="264.87" r="4.5"/><circle cx="1366.33" cy="265.38" r="4.5"/><circle cx="1358.79" cy="272.41" r="4.5"/><circle cx="1347.49" cy="269.9" r="4.5"/><circle cx="1344.97" cy="276.18" r="4.5"/><circle cx="1338.69" cy="263.62" r="4.5"/><circle cx="1341.21" cy="267.39" r="4.5"/><circle cx="1334.92" cy="259.85" r="4.5"/><circle cx="1328.64" cy="267.39" r="4.5"/><circle cx="1324.87" cy="269.9" r="4.5"/><circle cx="1321.11" cy="273.67" r="4.5"/><circle cx="1331.16" cy="273.67" r="4.5"/><circle cx="1336.18" cy="276.18" r="4.5"/><circle cx="1326.13" cy="278.69" r="4.5"/><circle cx="1332.41" cy="281.21" r="4.5"/><circle cx="1338.69" cy="282.46" r="4.5"/><circle cx="1328.64" cy="286.23" r="4.5"/><circle cx="1334.92" cy="287.49" r="4.5"/><circle cx="1329.9" cy="291.26" r="4.5"/><circle cx="1327.39" cy="293.77" r="4.5"/><circle cx="1323.62" cy="297.54" r="4.5"/><circle cx="1321.11" cy="301.31" r="4.5"/><circle cx="1337.44" cy="296.28" r="4.5"/><circle cx="1343.22" cy="295.03" r="4.5"/><circle cx="1318.59" cy="284.97" r="4.5"/><circle cx="1313.07" cy="289.5" r="4.5"/><circle cx="1288.44" cy="258.59" r="4.5"/><circle cx="1293.47" cy="261.11" r="4.5"/><circle cx="1298.49" cy="264.87" r="4.5"/><circle cx="1303.52" cy="262.36" r="4.5"/><circle cx="1308.54" cy="266.13" r="4.5"/><circle cx="1301.01" cy="269.9" r="4.5"/><circle cx="1306.03" cy="272.41" r="4.5"/><circle cx="1295.98" cy="271.16" r="4.5"/><circle cx="1290.95" cy="274.92" r="4.5"/><circle cx="1285.93" cy="272.41" r="4.5"/><circle cx="1298.49" cy="277.44" r="4.5"/><circle cx="1303.52" cy="279.95" r="4.5"/><circle cx="1308.54" cy="276.18" r="4.5"/><circle cx="1293.47" cy="282.46" r="4.5"/><circle cx="1299.75" cy="283.72" r="4.5"/><circle cx="1307.29" cy="282.46" r="4.5"/><circle cx="1278.39" cy="278.69" r="4.5"/><circle cx="1265.83" cy="279.95" r="4.5"/><circle cx="1264.57" cy="284.97" r="4.5"/><circle cx="1252.01" cy="286.73" r="4.5"/><circle cx="1274.62" cy="266.13" r="4.5"/><circle cx="1265.83" cy="266.13" r="4.5"/><circle cx="1230.65" cy="258.59" r="4.5"/><circle cx="1218.09" cy="270.65" r="4.5"/><circle cx="1223.12" cy="276.18" r="4.5"/><circle cx="1240.2" cy="272.41" r="4.5"/><circle cx="1242.71" cy="269.15" r="4.5"/><circle cx="1246.98" cy="276.68" r="4.5"/><circle cx="1231.91" cy="282.46" r="4.5"/><circle cx="1234.42" cy="283.22" r="4.5"/><circle cx="1189.2" cy="288.24" r="4.5"/><circle cx="1188.44" cy="302.56" r="4.5"/><circle cx="1190.45" cy="306.83" r="4.5"/><circle cx="1220.6" cy="305.08" r="4.5"/><circle cx="1111.31" cy="325.93" r="4.5"/><circle cx="1294.72" cy="297.54" r="4.5"/><circle cx="1302.26" cy="302.56" r="4.5"/><circle cx="1308.54" cy="301.31" r="4.5"/><circle cx="1284.67" cy="313.87" r="4.5"/><circle cx="1286.68" cy="318.39" r="4.5"/><circle cx="1326.63" cy="316.38" r="4.5"/><circle cx="1332.41" cy="311.36" r="4.5"/><circle cx="1336.18" cy="311.36" r="4.5"/><circle cx="1344.97" cy="312.11" r="4.5"/><circle cx="1310.55" cy="330.7" r="4.5"/><circle cx="1351.26" cy="230.95" r="4.5"/><circle cx="1323.62" cy="241.01" r="4.5"/><circle cx="1318.59" cy="246.03" r="4.5"/><circle cx="1313.57" cy="256.08" r="4.5"/><circle cx="1318.59" cy="258.59" r="4.5"/><circle cx="1327.39" cy="248.54" r="4.5"/><circle cx="1348.74" cy="258.59" r="4.5"/><circle cx="1341.21" cy="261.11" r="4.5"/><circle cx="1334.92" cy="268.64" r="4.5"/><circle cx="1323.17" cy="247.73" r="4.5"/><circle cx="1325.59" cy="253.17" r="4.5"/><circle cx="1336.47" cy="254.38" r="4.5"/><circle cx="1341.3" cy="258.01" r="4.5"/><circle cx="1299" cy="257.4" r="4.5"/><circle cx="1303.84" cy="260.42" r="4.5"/><circle cx="1295.38" cy="265.26" r="4.5"/><circle cx="1312.3" cy="254.38" r="4.5"/>
</g>
<path d="M1110.6 287.63 L1118.68 285.97 L1126.75 284.32 L1134.83 282.66 L1142.91 281 L1150.99 279.34 L1159.06 277.68 L1167.14 276.01 L1175.22 274.34 L1183.3 272.67 L1191.38 270.99 L1199.45 269.3 L1207.53 267.61 L1215.61 265.91 L1223.68 264.2 L1231.76 262.48 L1239.84 260.74 L1247.92 258.98 L1255.99 257.2 L1264.07 255.38 L1272.15 253.51 L1280.23 251.58 L1288.31 249.57 L1296.38 247.45 L1304.46 245.19 L1312.54 242.76 L1320.62 240.14 L1328.69 237.35 L1336.77 234.39 L1344.85 231.32 L1352.92 228.14 L1361 224.9 L1369.08 221.6 L1377.16 218.26 L1385.24 214.89 L1393.31 211.49 L1401.39 208.08 L1409.47 204.66 L1417.55 201.22 L1425.62 197.77 L1433.7 194.32" fill="none" stroke="#000" stroke-width="1.6" stroke-dasharray="5.6 6.3"/>
<path d="M1110.6 335.84 L1118.68 332.35 L1126.75 328.86 L1134.83 325.38 L1142.91 321.89 L1150.99 318.41 L1159.06 314.94 L1167.14 311.46 L1175.22 307.99 L1183.3 304.52 L1191.38 301.06 L1199.45 297.6 L1207.53 294.15 L1215.61 290.71 L1223.68 287.28 L1231.76 283.86 L1239.84 280.46 L1247.92 277.07 L1255.99 273.72 L1264.07 270.4 L1272.15 267.12 L1280.23 263.91 L1288.31 260.78 L1296.38 257.76 L1304.46 254.88 L1312.54 252.17 L1320.62 249.64 L1328.69 247.3 L1336.77 245.11 L1344.85 243.04 L1352.92 241.08 L1361 239.18 L1369.08 237.34 L1377.16 235.54 L1385.24 233.77 L1393.31 232.02 L1401.39 230.29 L1409.47 228.57 L1417.55 226.87 L1425.62 225.17 L1433.7 223.48" fill="none" stroke="#000" stroke-width="1.6" stroke-dasharray="5.6 6.3"/>
<line x1="1106.3" y1="313.1" x2="1451.3" y2="203.3" stroke="#000" stroke-width="1.9"/>
<path d="M1095.1 46.5 H1105.4 V367.3 H1095.1 M1095.1 126.7 H1105.4 M1095.1 206.9 H1105.4 M1095.1 286.7 H1105.4 M1117.8 389.9 V379.9 H1438.3 V389.9 M1225 379.9 V389.9 M1331.4 379.9 V389.9" fill="none" stroke="#000" stroke-width="2" stroke-linejoin="round" stroke-linecap="round"/>
<text x="1117.8" y="416.5" text-anchor="middle">−20</text>
<text x="1225" y="416.5" text-anchor="middle">−10</text>
<text x="1331.4" y="416.5" text-anchor="middle">0</text>
<text x="1438.3" y="416.5" text-anchor="middle">10</text>
<text transform="translate(1085.2 46.5) rotate(-90)" text-anchor="middle">6</text>
<text transform="translate(1085.2 126.7) rotate(-90)" text-anchor="middle">3</text>
<text transform="translate(1085.2 206.9) rotate(-90)" text-anchor="middle">0</text>
<text transform="translate(1085.2 286.7) rotate(-90)" text-anchor="middle">−3</text>
<text transform="translate(1085.2 367.3) rotate(-90)" text-anchor="middle">−6</text>
<text x="1278.4" y="20.6" text-anchor="middle">DE</text>
<text x="1191.6" y="456.3" font-size="24.1" font-style="italic">t</text>
<text x="1199.85" y="456.3" font-size="24.1">−statistic (SSS)</text>
<text transform="translate(1037.3 305.68) rotate(-90)" font-size="24.1" font-style="italic">t</text>
<text transform="translate(1037.3 295.5) rotate(-90)" font-size="24.1">−statistic (human)</text>
<text x="1127.28" y="70.8" font-style="italic">r</text>
<text transform="translate(1141.23 70.8) scale(1.52 1)" font-size="18">=</text>
<text x="1161.84" y="70.8">0.338</text>
<text x="1127.48" y="102.9" font-style="italic">P</text>
<text transform="translate(1150.03 102.9) scale(1.52 1)" font-size="18">=</text>
<text x="1169.6" y="102.9">6.9</text>
<text x="1206.41" y="105.9" font-size="27">×</text>
<text x="1225.7" y="102.9">10</text>
<text x="1253.05" y="90.8" font-size="15">−8</text>
</g>
<g id="bSE">
<polygon points="1614.6,300.81 1622.68,296.26 1630.75,291.7 1638.83,287.14 1646.91,282.58 1654.99,278.02 1663.06,273.45 1671.14,268.88 1679.22,264.3 1687.3,259.72 1695.38,255.13 1703.45,250.54 1711.53,245.93 1719.61,241.32 1727.68,236.69 1735.76,232.05 1743.84,227.38 1751.92,222.69 1759.99,217.96 1768.07,213.19 1776.15,208.36 1784.23,203.46 1792.31,198.45 1800.38,193.3 1808.46,187.99 1816.54,182.48 1824.62,176.76 1832.69,170.84 1840.77,164.74 1848.85,158.49 1856.92,152.12 1865,145.67 1873.08,139.16 1881.16,132.59 1889.24,125.99 1897.31,119.36 1905.39,112.71 1913.47,106.04 1921.55,99.35 1929.62,92.66 1937.7,85.95 1937.7,121.26 1929.62,125.86 1921.55,130.46 1913.47,135.08 1905.39,139.72 1897.31,144.37 1889.24,149.04 1881.16,153.75 1873.08,158.49 1865,163.28 1856.92,168.13 1848.85,173.07 1840.77,178.13 1832.69,183.33 1824.62,188.71 1816.54,194.29 1808.46,200.09 1800.38,206.08 1792.31,212.24 1784.23,218.54 1776.15,224.93 1768.07,231.41 1759.99,237.94 1751.92,244.52 1743.84,251.13 1735.76,257.77 1727.68,264.43 1719.61,271.11 1711.53,277.8 1703.45,284.5 1695.38,291.21 1687.3,297.92 1679.22,304.65 1671.14,311.37 1663.06,318.11 1654.99,324.84 1646.91,331.59 1638.83,338.33 1630.75,345.07 1622.68,351.82 1614.6,358.57" fill="#cccccc"/>
<g fill="#666666">
<circle cx="1937.67" cy="59.35" r="4.5"/><circle cx="1825.11" cy="64.62" r="4.5"/><circle cx="1853.5" cy="64.12" r="4.5"/><circle cx="1866.56" cy="66.88" r="4.5"/><circle cx="1841.44" cy="70.15" r="4.5"/><circle cx="1864.05" cy="78.19" r="4.5"/><circle cx="1838.17" cy="80.2" r="4.5"/><circle cx="1838.92" cy="88.49" r="4.5"/><circle cx="1851.49" cy="87.74" r="4.5"/><circle cx="1869.58" cy="87.24" r="4.5"/><circle cx="1887.42" cy="91.26" r="4.5"/><circle cx="1853.5" cy="99.05" r="4.5"/><circle cx="1852.74" cy="105.83" r="4.5"/><circle cx="1839.43" cy="111.61" r="4.5"/><circle cx="1846.46" cy="112.86" r="4.5"/><circle cx="1854" cy="114.12" r="4.5"/><circle cx="1862.79" cy="116.13" r="4.5"/><circle cx="1823.85" cy="114.62" r="4.5"/><circle cx="1830.13" cy="117.89" r="4.5"/><circle cx="1832.64" cy="122.91" r="4.5"/><circle cx="1836.41" cy="127.94" r="4.5"/><circle cx="1843.95" cy="121.66" r="4.5"/><circle cx="1848.97" cy="122.91" r="4.5"/><circle cx="1855.26" cy="120.4" r="4.5"/><circle cx="1857.77" cy="125.43" r="4.5"/><circle cx="1852.74" cy="129.2" r="4.5"/><circle cx="1846.46" cy="127.94" r="4.5"/><circle cx="1841.44" cy="131.71" r="4.5"/><circle cx="1836.41" cy="134.22" r="4.5"/><circle cx="1830.13" cy="134.97" r="4.5"/><circle cx="1818.82" cy="134.22" r="4.5"/><circle cx="1817.07" cy="126.18" r="4.5"/><circle cx="1798.72" cy="124.67" r="4.5"/><circle cx="1796.21" cy="134.22" r="4.5"/><circle cx="1886.66" cy="123.67" r="4.5"/><circle cx="1891.69" cy="127.94" r="4.5"/><circle cx="1906.01" cy="113.87" r="4.5"/><circle cx="1859.03" cy="136.73" r="4.5"/><circle cx="1851.49" cy="139.25" r="4.5"/><circle cx="1845.21" cy="140.5" r="4.5"/><circle cx="1840.18" cy="139.25" r="4.5"/><circle cx="1838.92" cy="144.27" r="4.5"/><circle cx="1827.62" cy="143.02" r="4.5"/><circle cx="1801.74" cy="146.28" r="4.5"/><circle cx="1782.39" cy="148.79" r="4.5"/><circle cx="1789.18" cy="149.55" r="4.5"/><circle cx="1820.08" cy="150.55" r="4.5"/><circle cx="1825.11" cy="154.32" r="4.5"/><circle cx="1830.13" cy="153.07" r="4.5"/><circle cx="1835.16" cy="150.55" r="4.5"/><circle cx="1840.18" cy="148.04" r="4.5"/><circle cx="1841.44" cy="154.32" r="4.5"/><circle cx="1836.41" cy="158.09" r="4.5"/><circle cx="1832.64" cy="160.6" r="4.5"/><circle cx="1827.62" cy="158.09" r="4.5"/><circle cx="1822.59" cy="161.86" r="4.5"/><circle cx="1817.57" cy="158.09" r="4.5"/><circle cx="1812.54" cy="156.83" r="4.5"/><circle cx="1804.25" cy="156.83" r="4.5"/><circle cx="1794.95" cy="157.59" r="4.5"/><circle cx="1796.21" cy="164.87" r="4.5"/><circle cx="1801.24" cy="165.63" r="4.5"/><circle cx="1808.77" cy="164.37" r="4.5"/><circle cx="1812.54" cy="166.88" r="4.5"/><circle cx="1822.59" cy="170.65" r="4.5"/><circle cx="1833.9" cy="163.12" r="4.5"/><circle cx="1845.21" cy="145.53" r="4.5"/><circle cx="1850.23" cy="143.02" r="4.5"/><circle cx="1855.26" cy="148.04" r="4.5"/><circle cx="1867.82" cy="143.02" r="4.5"/><circle cx="1874.1" cy="137.99" r="4.5"/><circle cx="1880.38" cy="136.73" r="4.5"/><circle cx="1887.92" cy="135.48" r="4.5"/><circle cx="1892.94" cy="134.22" r="4.5"/><circle cx="1895.46" cy="141.76" r="4.5"/><circle cx="1871.59" cy="150.55" r="4.5"/><circle cx="1876.61" cy="156.83" r="4.5"/><circle cx="1880.38" cy="157.59" r="4.5"/><circle cx="1888.67" cy="155.58" r="4.5"/><circle cx="1905.51" cy="159.35" r="4.5"/><circle cx="1907.27" cy="163.12" r="4.5"/><circle cx="1754.25" cy="158.59" r="4.5"/><circle cx="1766.31" cy="165.63" r="4.5"/><circle cx="1850.23" cy="168.14" r="4.5"/><circle cx="1847.72" cy="175.68" r="4.5"/><circle cx="1873.35" cy="174.42" r="4.5"/><circle cx="1873.6" cy="179.45" r="4.5"/><circle cx="1840.18" cy="181.96" r="4.5"/><circle cx="1808.77" cy="176.93" r="4.5"/><circle cx="1812.54" cy="178.19" r="4.5"/><circle cx="1791.19" cy="181.46" r="4.5"/><circle cx="1798.72" cy="184.47" r="4.5"/><circle cx="1805.01" cy="185.73" r="4.5"/><circle cx="1796.21" cy="190.75" r="4.5"/><circle cx="1802.49" cy="193.27" r="4.5"/><circle cx="1810.03" cy="194.52" r="4.5"/><circle cx="1815.06" cy="188.24" r="4.5"/><circle cx="1820.08" cy="185.73" r="4.5"/><circle cx="1828.87" cy="188.24" r="4.5"/><circle cx="1835.16" cy="192.01" r="4.5"/><circle cx="1831.39" cy="195.78" r="4.5"/><circle cx="1826.36" cy="198.29" r="4.5"/><circle cx="1822.59" cy="203.32" r="4.5"/><circle cx="1816.31" cy="205.83" r="4.5"/><circle cx="1810.03" cy="205.83" r="4.5"/><circle cx="1807.52" cy="200.8" r="4.5"/><circle cx="1837.67" cy="195.78" r="4.5"/><circle cx="1845.21" cy="198.29" r="4.5"/><circle cx="1848.97" cy="190.75" r="4.5"/><circle cx="1851.49" cy="189.5" r="4.5"/><circle cx="1894.95" cy="187.74" r="4.5"/><circle cx="1877.37" cy="192.76" r="4.5"/><circle cx="1870.33" cy="197.54" r="4.5"/><circle cx="1779.88" cy="195.78" r="4.5"/><circle cx="1769.08" cy="198.29" r="4.5"/><circle cx="1777.37" cy="207.09" r="4.5"/><circle cx="1779.88" cy="212.11" r="4.5"/><circle cx="1793.7" cy="212.11" r="4.5"/><circle cx="1810.03" cy="210.85" r="4.5"/><circle cx="1833.9" cy="203.32" r="4.5"/><circle cx="1836.41" cy="207.09" r="4.5"/><circle cx="1833.9" cy="212.11" r="4.5"/><circle cx="1828.87" cy="214.62" r="4.5"/><circle cx="1830.13" cy="219.65" r="4.5"/><circle cx="1810.03" cy="218.39" r="4.5"/><circle cx="1810.03" cy="225.93" r="4.5"/><circle cx="1838.92" cy="222.16" r="4.5"/><circle cx="1839.43" cy="227.19" r="4.5"/><circle cx="1858.27" cy="224.67" r="4.5"/><circle cx="1867.07" cy="219.9" r="4.5"/><circle cx="1875.86" cy="217.14" r="4.5"/><circle cx="1881.14" cy="212.36" r="4.5"/><circle cx="1899.98" cy="211.86" r="4.5"/><circle cx="1897.47" cy="228.69" r="4.5"/><circle cx="1875.61" cy="242.51" r="4.5"/><circle cx="1730.38" cy="205.83" r="4.5"/><circle cx="1764.05" cy="214.62" r="4.5"/><circle cx="1768.57" cy="219.65" r="4.5"/><circle cx="1773.6" cy="224.67" r="4.5"/><circle cx="1774.35" cy="228.44" r="4.5"/><circle cx="1734.65" cy="223.42" r="4.5"/><circle cx="1750.48" cy="228.44" r="4.5"/><circle cx="1756.01" cy="235.98" r="4.5"/><circle cx="1747.22" cy="241.01" r="4.5"/><circle cx="1744.2" cy="244.02" r="4.5"/><circle cx="1739.68" cy="248.04" r="4.5"/><circle cx="1735.91" cy="253.57" r="4.5"/><circle cx="1693.2" cy="240.25" r="4.5"/><circle cx="1692.44" cy="243.52" r="4.5"/><circle cx="1692.69" cy="260.6" r="4.5"/><circle cx="1722.09" cy="261.11" r="4.5"/><circle cx="1727.12" cy="272.91" r="4.5"/><circle cx="1724.6" cy="282.46" r="4.5"/><circle cx="1782.39" cy="233.47" r="4.5"/><circle cx="1789.93" cy="229.7" r="4.5"/><circle cx="1797.47" cy="230.95" r="4.5"/><circle cx="1802.49" cy="233.47" r="4.5"/><circle cx="1803.75" cy="238.49" r="4.5"/><circle cx="1791.19" cy="238.49" r="4.5"/><circle cx="1789.93" cy="243.52" r="4.5"/><circle cx="1788.67" cy="248.54" r="4.5"/><circle cx="1768.57" cy="250.55" r="4.5"/><circle cx="1770.33" cy="259.85" r="4.5"/><circle cx="1764.05" cy="273.67" r="4.5"/><circle cx="1769.83" cy="276.18" r="4.5"/><circle cx="1812.54" cy="241.01" r="4.5"/><circle cx="1817.57" cy="243.52" r="4.5"/><circle cx="1818.82" cy="248.54" r="4.5"/><circle cx="1807.52" cy="249.05" r="4.5"/><circle cx="1811.29" cy="253.57" r="4.5"/><circle cx="1816.31" cy="257.34" r="4.5"/><circle cx="1819.58" cy="261.11" r="4.5"/><circle cx="1825.11" cy="253.57" r="4.5"/><circle cx="1830.13" cy="258.59" r="4.5"/><circle cx="1831.39" cy="262.36" r="4.5"/><circle cx="1831.89" cy="266.13" r="4.5"/><circle cx="1821.34" cy="233.97" r="4.5"/><circle cx="1826.36" cy="234.22" r="4.5"/><circle cx="1835.66" cy="239.75" r="4.5"/><circle cx="1842.69" cy="263.62" r="4.5"/><circle cx="1847.72" cy="268.64" r="4.5"/><circle cx="1842.69" cy="272.41" r="4.5"/><circle cx="1811.29" cy="269.9" r="4.5"/><circle cx="1814.3" cy="283.22" r="4.5"/><circle cx="1792.44" cy="290.75" r="4.5"/><circle cx="1796.96" cy="291.76" r="4.5"/><circle cx="1822.59" cy="298.04" r="4.5"/><circle cx="1831.89" cy="295.78" r="4.5"/><circle cx="1797.47" cy="308.34" r="4.5"/><circle cx="1615.31" cy="360.85" r="4.5"/><circle cx="1848.28" cy="143.9" r="4.5"/><circle cx="1851.9" cy="147.52" r="4.5"/><circle cx="1831.96" cy="178.34" r="4.5"/><circle cx="1834.38" cy="183.17" r="4.5"/><circle cx="1811.42" cy="181.36" r="4.5"/><circle cx="1816.25" cy="184.38" r="4.5"/><circle cx="1829.55" cy="193.44" r="4.5"/><circle cx="1834.38" cy="202.51" r="4.5"/><circle cx="1825.92" cy="199.49" r="4.5"/><circle cx="1839.21" cy="196.47" r="4.5"/><circle cx="1870.63" cy="139.06" r="4.5"/><circle cx="1799.94" cy="188.01" r="4.5"/>
</g>
<path d="M1614.6 300.81 L1622.68 296.26 L1630.75 291.7 L1638.83 287.14 L1646.91 282.58 L1654.99 278.02 L1663.06 273.45 L1671.14 268.88 L1679.22 264.3 L1687.3 259.72 L1695.38 255.13 L1703.45 250.54 L1711.53 245.93 L1719.61 241.32 L1727.68 236.69 L1735.76 232.05 L1743.84 227.38 L1751.92 222.69 L1759.99 217.96 L1768.07 213.19 L1776.15 208.36 L1784.23 203.46 L1792.31 198.45 L1800.38 193.3 L1808.46 187.99 L1816.54 182.48 L1824.62 176.76 L1832.69 170.84 L1840.77 164.74 L1848.85 158.49 L1856.92 152.12 L1865 145.67 L1873.08 139.16 L1881.16 132.59 L1889.24 125.99 L1897.31 119.36 L1905.39 112.71 L1913.47 106.04 L1921.55 99.35 L1929.62 92.66 L1937.7 85.95" fill="none" stroke="#000" stroke-width="1.6" stroke-dasharray="5.6 6.3"/>
<path d="M1614.6 358.57 L1622.68 351.82 L1630.75 345.07 L1638.83 338.33 L1646.91 331.59 L1654.99 324.84 L1663.06 318.11 L1671.14 311.37 L1679.22 304.65 L1687.3 297.92 L1695.38 291.21 L1703.45 284.5 L1711.53 277.8 L1719.61 271.11 L1727.68 264.43 L1735.76 257.77 L1743.84 251.13 L1751.92 244.52 L1759.99 237.94 L1768.07 231.41 L1776.15 224.93 L1784.23 218.54 L1792.31 212.24 L1800.38 206.08 L1808.46 200.09 L1816.54 194.29 L1824.62 188.71 L1832.69 183.33 L1840.77 178.13 L1848.85 173.07 L1856.92 168.13 L1865 163.28 L1873.08 158.49 L1881.16 153.75 L1889.24 149.04 L1897.31 144.37 L1905.39 139.72 L1913.47 135.08 L1921.55 130.46 L1929.62 125.86 L1937.7 121.26" fill="none" stroke="#000" stroke-width="1.6" stroke-dasharray="5.6 6.3"/>
<line x1="1610.3" y1="332.7" x2="1955" y2="91.5" stroke="#000" stroke-width="1.9"/>
<path d="M1599.2 46.5 H1609.5 V367.3 H1599.2 M1599.2 110.7 H1609.5 M1599.2 174.9 H1609.5 M1599.2 238.8 H1609.5 M1599.2 303 H1609.5 M1621.9 389.9 V379.9 H1942 V389.9 M1729.1 379.9 V389.9 M1835.5 379.9 V389.9" fill="none" stroke="#000" stroke-width="2" stroke-linejoin="round" stroke-linecap="round"/>
<text x="1621.9" y="416.5" text-anchor="middle">−20</text>
<text x="1729.1" y="416.5" text-anchor="middle">−10</text>
<text x="1835.5" y="416.5" text-anchor="middle">0</text>
<text x="1942" y="416.5" text-anchor="middle">10</text>
<text transform="translate(1589.3 46.5) rotate(-90)" text-anchor="middle">6</text>
<text transform="translate(1589.3 110.7) rotate(-90)" text-anchor="middle">3</text>
<text transform="translate(1589.3 174.9) rotate(-90)" text-anchor="middle">0</text>
<text transform="translate(1589.3 238.8) rotate(-90)" text-anchor="middle">−3</text>
<text transform="translate(1589.3 303) rotate(-90)" text-anchor="middle">−6</text>
<text transform="translate(1589.3 367.3) rotate(-90)" text-anchor="middle">−9</text>
<text x="1782.3" y="20.6" text-anchor="middle">SE</text>
<text x="1695.5" y="456.3" font-size="24.1" font-style="italic">t</text>
<text x="1703.75" y="456.3" font-size="24.1">−statistic (SSS)</text>
<text transform="translate(1541.4 305.68) rotate(-90)" font-size="24.1" font-style="italic">t</text>
<text transform="translate(1541.4 295.5) rotate(-90)" font-size="24.1">−statistic (human)</text>
<text x="1631.38" y="70.8" font-style="italic">r</text>
<text transform="translate(1645.33 70.8) scale(1.52 1)" font-size="18">=</text>
<text x="1665.94" y="70.8">0.544</text>
<text x="1631.58" y="102.9" font-style="italic">P</text>
<text x="1654.72" y="105.3" font-size="25.6">&lt;</text>
<text x="1674.4" y="102.9">10</text>
<text x="1701.45" y="90.8" font-size="15">−10</text>
</g>
<text x="-3.65" y="31.3" font-size="45" font-weight="bold">a</text>
<text x="1006.2" y="32.6" font-size="45" font-weight="bold">b</text>
<text x="-1.6" y="530.1" font-size="45" font-weight="bold">c</text>
<g id="heat">
<rect x="7.2" y="632.2" width="22.18" height="31.2" fill="#0000ff"/>
<rect x="32.27" y="632.2" width="20.45" height="31.2" fill="#0000ff"/>
<rect x="55.63" y="632.2" width="20.45" height="31.2" fill="#0000ff"/>
<rect x="78.98" y="632.2" width="20.45" height="31.2" fill="#0000ff"/>
<rect x="102.33" y="632.2" width="20.45" height="31.2" fill="#0000ff"/>
<rect x="125.68" y="632.2" width="20.45" height="31.2" fill="#0000ff"/>
<rect x="149.03" y="632.2" width="20.45" height="31.2" fill="#0000ff"/>
<rect x="172.38" y="632.2" width="20.45" height="31.2" fill="#0000ff"/>
<rect x="195.72" y="632.2" width="20.45" height="31.2" fill="#0000ff"/>
<rect x="219.07" y="632.2" width="20.45" height="31.2" fill="#6060fc"/>
<rect x="242.42" y="632.2" width="20.45" height="31.2" fill="#6060fc"/>
<rect x="265.77" y="632.2" width="20.45" height="31.2" fill="#6060fc"/>
<rect x="289.12" y="632.2" width="20.45" height="31.2" fill="#6060fc"/>
<rect x="312.47" y="632.2" width="20.45" height="31.2" fill="#cccccc"/>
<rect x="335.82" y="632.2" width="20.45" height="31.2" fill="#cccccc"/>
<rect x="359.17" y="632.2" width="20.45" height="31.2" fill="#cccccc"/>
<rect x="382.52" y="632.2" width="20.45" height="31.2" fill="#ffaaaa"/>
<rect x="405.88" y="632.2" width="20.45" height="31.2" fill="#cccccc"/>
<rect x="429.22" y="632.2" width="20.45" height="31.2" fill="#cccccc"/>
<rect x="452.57" y="632.2" width="20.45" height="31.2" fill="#cccccc"/>
<rect x="475.92" y="632.2" width="20.45" height="31.2" fill="#ff5555"/>
<rect x="499.27" y="632.2" width="20.45" height="31.2" fill="#ff5555"/>
<rect x="522.63" y="632.2" width="20.45" height="31.2" fill="#ff5555"/>
<rect x="545.98" y="632.2" width="20.45" height="31.2" fill="#ffaaaa"/>
<rect x="569.33" y="632.2" width="20.45" height="31.2" fill="#ff8080"/>
<rect x="592.68" y="632.2" width="20.45" height="31.2" fill="#cccccc"/>
<rect x="616.03" y="632.2" width="20.45" height="31.2" fill="#ffaaaa"/>
<rect x="639.38" y="632.2" width="20.45" height="31.2" fill="#3030ff"/>
<rect x="662.73" y="632.2" width="20.45" height="31.2" fill="#6060fc"/>
<rect x="686.08" y="632.2" width="20.45" height="31.2" fill="#0000ff"/>
<rect x="709.43" y="632.2" width="20.45" height="31.2" fill="#0000ff"/>
<rect x="732.78" y="632.2" width="20.45" height="31.2" fill="#6060fc"/>
<rect x="756.13" y="632.2" width="20.45" height="31.2" fill="#6060fc"/>
<rect x="779.48" y="632.2" width="20.45" height="31.2" fill="#8c8cfa"/>
<rect x="802.83" y="632.2" width="20.45" height="31.2" fill="#b9b9fc"/>
<rect x="826.18" y="632.2" width="20.45" height="31.2" fill="#ff0000"/>
<rect x="849.53" y="632.2" width="20.45" height="31.2" fill="#ff0000"/>
<rect x="872.88" y="632.2" width="20.45" height="31.2" fill="#ff0000"/>
<rect x="896.23" y="632.2" width="20.45" height="31.2" fill="#ff0000"/>
<rect x="919.58" y="632.2" width="20.45" height="31.2" fill="#ff0000"/>
<rect x="942.93" y="632.2" width="20.45" height="31.2" fill="#ffaaaa"/>
<rect x="966.28" y="632.2" width="20.45" height="31.2" fill="#cccccc"/>
<rect x="989.63" y="632.2" width="20.45" height="31.2" fill="#cccccc"/>
<rect x="1012.98" y="632.2" width="20.45" height="31.2" fill="#ff5555"/>
<rect x="1036.33" y="632.2" width="20.45" height="31.2" fill="#ff5555"/>
<rect x="1059.68" y="632.2" width="20.45" height="31.2" fill="#cccccc"/>
<rect x="1083.03" y="632.2" width="20.45" height="31.2" fill="#cccccc"/>
<rect x="1106.38" y="632.2" width="20.45" height="31.2" fill="#cccccc"/>
<rect x="1129.73" y="632.2" width="20.45" height="31.2" fill="#cccccc"/>
<rect x="1153.08" y="632.2" width="20.45" height="31.2" fill="#ffaaaa"/>
<rect x="1176.43" y="632.2" width="20.45" height="31.2" fill="#ff8080"/>
<rect x="1199.78" y="632.2" width="20.45" height="31.2" fill="#8c8cfa"/>
<rect x="1223.13" y="632.2" width="20.45" height="31.2" fill="#cccccc"/>
<rect x="1246.48" y="632.2" width="20.45" height="31.2" fill="#ffaaaa"/>
<rect x="1269.83" y="632.2" width="20.45" height="31.2" fill="#cccccc"/>
<rect x="1293.18" y="632.2" width="20.45" height="31.2" fill="#cccccc"/>
<rect x="1316.53" y="632.2" width="20.45" height="31.2" fill="#cccccc"/>
<rect x="1339.88" y="632.2" width="20.45" height="31.2" fill="#cccccc"/>
<rect x="1363.23" y="632.2" width="20.45" height="31.2" fill="#cccccc"/>
<rect x="1386.58" y="632.2" width="20.45" height="31.2" fill="#cccccc"/>
<rect x="1409.93" y="632.2" width="20.45" height="31.2" fill="#cccccc"/>
<rect x="1433.28" y="632.2" width="20.45" height="31.2" fill="#cccccc"/>
<rect x="1456.63" y="632.2" width="20.45" height="31.2" fill="#8c8cfa"/>
<rect x="1479.98" y="632.2" width="20.45" height="31.2" fill="#b9b9fc"/>
<rect x="1503.33" y="632.2" width="20.45" height="31.2" fill="#b9b9fc"/>
<rect x="1526.68" y="632.2" width="20.45" height="31.2" fill="#ff8080"/>
<rect x="1550.03" y="632.2" width="20.45" height="31.2" fill="#ff8080"/>
<rect x="1573.38" y="632.2" width="20.45" height="31.2" fill="#ff5555"/>
<rect x="1596.73" y="632.2" width="20.45" height="31.2" fill="#ff5555"/>
<rect x="1620.08" y="632.2" width="20.45" height="31.2" fill="#ff0000"/>
<rect x="1643.43" y="632.2" width="20.45" height="31.2" fill="#ff8080"/>
<rect x="1666.78" y="632.2" width="20.45" height="31.2" fill="#ff8080"/>
<rect x="1690.13" y="632.2" width="20.45" height="31.2" fill="#ff5555"/>
<rect x="1713.48" y="632.2" width="20.45" height="31.2" fill="#ff0000"/>
<rect x="1736.83" y="632.2" width="20.45" height="31.2" fill="#ff0000"/>
<rect x="1760.18" y="632.2" width="20.45" height="31.2" fill="#ff0000"/>
<rect x="1783.53" y="632.2" width="20.45" height="31.2" fill="#ff2b2b"/>
<rect x="1806.88" y="632.2" width="20.45" height="31.2" fill="#ff2b2b"/>
<rect x="1830.23" y="632.2" width="20.45" height="31.2" fill="#ff2b2b"/>
<rect x="7.2" y="665.7" width="22.18" height="29.5" fill="#b9b9fc"/>
<rect x="32.27" y="665.7" width="20.45" height="29.5" fill="#b9b9fc"/>
<rect x="55.63" y="665.7" width="20.45" height="29.5" fill="#cccccc"/>
<rect x="78.98" y="665.7" width="20.45" height="29.5" fill="#cccccc"/>
<rect x="102.33" y="665.7" width="20.45" height="29.5" fill="#0000ff"/>
<rect x="125.68" y="665.7" width="20.45" height="29.5" fill="#8c8cfa"/>
<rect x="149.03" y="665.7" width="20.45" height="29.5" fill="#cccccc"/>
<rect x="172.38" y="665.7" width="20.45" height="29.5" fill="#cccccc"/>
<rect x="195.72" y="665.7" width="20.45" height="29.5" fill="#8c8cfa"/>
<rect x="219.07" y="665.7" width="20.45" height="29.5" fill="#8c8cfa"/>
<rect x="242.42" y="665.7" width="20.45" height="29.5" fill="#b9b9fc"/>
<rect x="265.77" y="665.7" width="20.45" height="29.5" fill="#b9b9fc"/>
<rect x="289.12" y="665.7" width="20.45" height="29.5" fill="#0000ff"/>
<rect x="312.47" y="665.7" width="20.45" height="29.5" fill="#6060fc"/>
<rect x="335.82" y="665.7" width="20.45" height="29.5" fill="#6060fc"/>
<rect x="359.17" y="665.7" width="20.45" height="29.5" fill="#b9b9fc"/>
<rect x="382.52" y="665.7" width="20.45" height="29.5" fill="#b9b9fc"/>
<rect x="405.88" y="665.7" width="20.45" height="29.5" fill="#cccccc"/>
<rect x="429.22" y="665.7" width="20.45" height="29.5" fill="#cccccc"/>
<rect x="452.57" y="665.7" width="20.45" height="29.5" fill="#3030ff"/>
<rect x="475.92" y="665.7" width="20.45" height="29.5" fill="#cccccc"/>
<rect x="499.27" y="665.7" width="20.45" height="29.5" fill="#cccccc"/>
<rect x="522.63" y="665.7" width="20.45" height="29.5" fill="#ffaaaa"/>
<rect x="545.98" y="665.7" width="20.45" height="29.5" fill="#ff5555"/>
<rect x="569.33" y="665.7" width="20.45" height="29.5" fill="#b9b9fc"/>
<rect x="592.68" y="665.7" width="20.45" height="29.5" fill="#cccccc"/>
<rect x="616.03" y="665.7" width="20.45" height="29.5" fill="#cccccc"/>
<rect x="639.38" y="665.7" width="20.45" height="29.5" fill="#b9b9fc"/>
<rect x="662.73" y="665.7" width="20.45" height="29.5" fill="#cccccc"/>
<rect x="686.08" y="665.7" width="20.45" height="29.5" fill="#cccccc"/>
<rect x="709.43" y="665.7" width="20.45" height="29.5" fill="#ffaaaa"/>
<rect x="732.78" y="665.7" width="20.45" height="29.5" fill="#cccccc"/>
<rect x="756.13" y="665.7" width="20.45" height="29.5" fill="#ff8080"/>
<rect x="779.48" y="665.7" width="20.45" height="29.5" fill="#ff8080"/>
<rect x="802.83" y="665.7" width="20.45" height="29.5" fill="#ff8080"/>
<rect x="826.18" y="665.7" width="20.45" height="29.5" fill="#cccccc"/>
<rect x="849.53" y="665.7" width="20.45" height="29.5" fill="#cccccc"/>
<rect x="872.88" y="665.7" width="20.45" height="29.5" fill="#ffaaaa"/>
<rect x="896.23" y="665.7" width="20.45" height="29.5" fill="#cccccc"/>
<rect x="919.58" y="665.7" width="20.45" height="29.5" fill="#cccccc"/>
<rect x="942.93" y="665.7" width="20.45" height="29.5" fill="#ffaaaa"/>
<rect x="966.28" y="665.7" width="20.45" height="29.5" fill="#ffaaaa"/>
<rect x="989.63" y="665.7" width="20.45" height="29.5" fill="#ff8080"/>
<rect x="1012.98" y="665.7" width="20.45" height="29.5" fill="#ffaaaa"/>
<rect x="1036.33" y="665.7" width="20.45" height="29.5" fill="#ff8080"/>
<rect x="1059.68" y="665.7" width="20.45" height="29.5" fill="#6060fc"/>
<rect x="1083.03" y="665.7" width="20.45" height="29.5" fill="#b9b9fc"/>
<rect x="1106.38" y="665.7" width="20.45" height="29.5" fill="#cccccc"/>
<rect x="1129.73" y="665.7" width="20.45" height="29.5" fill="#cccccc"/>
<rect x="1153.08" y="665.7" width="20.45" height="29.5" fill="#ffaaaa"/>
<rect x="1176.43" y="665.7" width="20.45" height="29.5" fill="#cccccc"/>
<rect x="1199.78" y="665.7" width="20.45" height="29.5" fill="#ff2b2b"/>
<rect x="1223.13" y="665.7" width="20.45" height="29.5" fill="#ff2b2b"/>
<rect x="1246.48" y="665.7" width="20.45" height="29.5" fill="#ff0000"/>
<rect x="1269.83" y="665.7" width="20.45" height="29.5" fill="#ff5555"/>
<rect x="1293.18" y="665.7" width="20.45" height="29.5" fill="#ff2b2b"/>
<rect x="1316.53" y="665.7" width="20.45" height="29.5" fill="#ff0000"/>
<rect x="1339.88" y="665.7" width="20.45" height="29.5" fill="#ff0000"/>
<rect x="1363.23" y="665.7" width="20.45" height="29.5" fill="#ff0000"/>
<rect x="1386.58" y="665.7" width="20.45" height="29.5" fill="#ff0000"/>
<rect x="1409.93" y="665.7" width="20.45" height="29.5" fill="#ff2b2b"/>
<rect x="1433.28" y="665.7" width="20.45" height="29.5" fill="#ff0000"/>
<rect x="1456.63" y="665.7" width="20.45" height="29.5" fill="#ff0000"/>
<rect x="1479.98" y="665.7" width="20.45" height="29.5" fill="#ff0000"/>
<rect x="1503.33" y="665.7" width="20.45" height="29.5" fill="#ff0000"/>
<rect x="1526.68" y="665.7" width="20.45" height="29.5" fill="#ffaaaa"/>
<rect x="1550.03" y="665.7" width="20.45" height="29.5" fill="#ffaaaa"/>
<rect x="1573.38" y="665.7" width="20.45" height="29.5" fill="#ff8080"/>
<rect x="1596.73" y="665.7" width="20.45" height="29.5" fill="#ff5555"/>
<rect x="1620.08" y="665.7" width="20.45" height="29.5" fill="#ff2b2b"/>
<rect x="1643.43" y="665.7" width="20.45" height="29.5" fill="#ff2b2b"/>
<rect x="1666.78" y="665.7" width="20.45" height="29.5" fill="#ff0000"/>
<rect x="1690.13" y="665.7" width="20.45" height="29.5" fill="#ff0000"/>
<rect x="1713.48" y="665.7" width="20.45" height="29.5" fill="#ff2b2b"/>
<rect x="1736.83" y="665.7" width="20.45" height="29.5" fill="#ff0000"/>
<rect x="1760.18" y="665.7" width="20.45" height="29.5" fill="#ff0000"/>
<rect x="1783.53" y="665.7" width="20.45" height="29.5" fill="#ff0000"/>
<rect x="1806.88" y="665.7" width="20.45" height="29.5" fill="#ff0000"/>
<rect x="1830.23" y="665.7" width="20.45" height="29.5" fill="#ff0000"/>
<rect x="7.2" y="698.1" width="22.18" height="29.2" fill="#cccccc"/>
<rect x="32.27" y="698.1" width="20.45" height="29.2" fill="#cccccc"/>
<rect x="55.63" y="698.1" width="20.45" height="29.2" fill="#cccccc"/>
<rect x="78.98" y="698.1" width="20.45" height="29.2" fill="#ffaaaa"/>
<rect x="102.33" y="698.1" width="20.45" height="29.2" fill="#ffaaaa"/>
<rect x="125.68" y="698.1" width="20.45" height="29.2" fill="#ffaaaa"/>
<rect x="149.03" y="698.1" width="20.45" height="29.2" fill="#ffaaaa"/>
<rect x="172.38" y="698.1" width="20.45" height="29.2" fill="#ffaaaa"/>
<rect x="195.72" y="698.1" width="20.45" height="29.2" fill="#ffaaaa"/>
<rect x="219.07" y="698.1" width="20.45" height="29.2" fill="#cccccc"/>
<rect x="242.42" y="698.1" width="20.45" height="29.2" fill="#cccccc"/>
<rect x="265.77" y="698.1" width="20.45" height="29.2" fill="#b9b9fc"/>
<rect x="289.12" y="698.1" width="20.45" height="29.2" fill="#b9b9fc"/>
<rect x="312.47" y="698.1" width="20.45" height="29.2" fill="#6060fc"/>
<rect x="335.82" y="698.1" width="20.45" height="29.2" fill="#0000ff"/>
<rect x="359.17" y="698.1" width="20.45" height="29.2" fill="#ffaaaa"/>
<rect x="382.52" y="698.1" width="20.45" height="29.2" fill="#b9b9fc"/>
<rect x="405.88" y="698.1" width="20.45" height="29.2" fill="#cccccc"/>
<rect x="429.22" y="698.1" width="20.45" height="29.2" fill="#ff5555"/>
<rect x="452.57" y="698.1" width="20.45" height="29.2" fill="#ff8080"/>
<rect x="475.92" y="698.1" width="20.45" height="29.2" fill="#ffaaaa"/>
<rect x="499.27" y="698.1" width="20.45" height="29.2" fill="#ff5555"/>
<rect x="522.63" y="698.1" width="20.45" height="29.2" fill="#ffaaaa"/>
<rect x="545.98" y="698.1" width="20.45" height="29.2" fill="#ff5555"/>
<rect x="569.33" y="698.1" width="20.45" height="29.2" fill="#ff5555"/>
<rect x="592.68" y="698.1" width="20.45" height="29.2" fill="#ff5555"/>
<rect x="616.03" y="698.1" width="20.45" height="29.2" fill="#ff5555"/>
<rect x="639.38" y="698.1" width="20.45" height="29.2" fill="#ff5555"/>
<rect x="662.73" y="698.1" width="20.45" height="29.2" fill="#ff5555"/>
<rect x="686.08" y="698.1" width="20.45" height="29.2" fill="#ffaaaa"/>
<rect x="709.43" y="698.1" width="20.45" height="29.2" fill="#ff5555"/>
<rect x="732.78" y="698.1" width="20.45" height="29.2" fill="#ffaaaa"/>
<rect x="756.13" y="698.1" width="20.45" height="29.2" fill="#ff5555"/>
<rect x="779.48" y="698.1" width="20.45" height="29.2" fill="#ff8080"/>
<rect x="802.83" y="698.1" width="20.45" height="29.2" fill="#ff5555"/>
<rect x="826.18" y="698.1" width="20.45" height="29.2" fill="#8c8cfa"/>
<rect x="849.53" y="698.1" width="20.45" height="29.2" fill="#ff5555"/>
<rect x="872.88" y="698.1" width="20.45" height="29.2" fill="#ffaaaa"/>
<rect x="896.23" y="698.1" width="20.45" height="29.2" fill="#ffaaaa"/>
<rect x="919.58" y="698.1" width="20.45" height="29.2" fill="#ff8080"/>
<rect x="942.93" y="698.1" width="20.45" height="29.2" fill="#cccccc"/>
<rect x="966.28" y="698.1" width="20.45" height="29.2" fill="#b9b9fc"/>
<rect x="989.63" y="698.1" width="20.45" height="29.2" fill="#cccccc"/>
<rect x="1012.98" y="698.1" width="20.45" height="29.2" fill="#ffaaaa"/>
<rect x="1036.33" y="698.1" width="20.45" height="29.2" fill="#ffaaaa"/>
<rect x="1059.68" y="698.1" width="20.45" height="29.2" fill="#cccccc"/>
<rect x="1083.03" y="698.1" width="20.45" height="29.2" fill="#cccccc"/>
<rect x="1106.38" y="698.1" width="20.45" height="29.2" fill="#ff8080"/>
<rect x="1129.73" y="698.1" width="20.45" height="29.2" fill="#ff2b2b"/>
<rect x="1153.08" y="698.1" width="20.45" height="29.2" fill="#ff8080"/>
<rect x="1176.43" y="698.1" width="20.45" height="29.2" fill="#ff8080"/>
<rect x="1199.78" y="698.1" width="20.45" height="29.2" fill="#ffaaaa"/>
<rect x="1223.13" y="698.1" width="20.45" height="29.2" fill="#cccccc"/>
<rect x="1246.48" y="698.1" width="20.45" height="29.2" fill="#ff5555"/>
<rect x="1269.83" y="698.1" width="20.45" height="29.2" fill="#ff8080"/>
<rect x="1293.18" y="698.1" width="20.45" height="29.2" fill="#ff8080"/>
<rect x="1316.53" y="698.1" width="20.45" height="29.2" fill="#ffaaaa"/>
<rect x="1339.88" y="698.1" width="20.45" height="29.2" fill="#ffaaaa"/>
<rect x="1363.23" y="698.1" width="20.45" height="29.2" fill="#ff8080"/>
<rect x="1386.58" y="698.1" width="20.45" height="29.2" fill="#ff8080"/>
<rect x="1409.93" y="698.1" width="20.45" height="29.2" fill="#ff8080"/>
<rect x="1433.28" y="698.1" width="20.45" height="29.2" fill="#ff8080"/>
<rect x="1456.63" y="698.1" width="20.45" height="29.2" fill="#ff8080"/>
<rect x="1479.98" y="698.1" width="20.45" height="29.2" fill="#ff8080"/>
<rect x="1503.33" y="698.1" width="20.45" height="29.2" fill="#ff8080"/>
<rect x="1526.68" y="698.1" width="20.45" height="29.2" fill="#ffaaaa"/>
<rect x="1550.03" y="698.1" width="20.45" height="29.2" fill="#ff2b2b"/>
<rect x="1573.38" y="698.1" width="20.45" height="29.2" fill="#ff5555"/>
<rect x="1596.73" y="698.1" width="20.45" height="29.2" fill="#ff8080"/>
<rect x="1620.08" y="698.1" width="20.45" height="29.2" fill="#ffaaaa"/>
<rect x="1643.43" y="698.1" width="20.45" height="29.2" fill="#ff2b2b"/>
<rect x="1666.78" y="698.1" width="20.45" height="29.2" fill="#ff5555"/>
<rect x="1690.13" y="698.1" width="20.45" height="29.2" fill="#ff5555"/>
<rect x="1713.48" y="698.1" width="20.45" height="29.2" fill="#ff2b2b"/>
<rect x="1736.83" y="698.1" width="20.45" height="29.2" fill="#ff2b2b"/>
<rect x="1760.18" y="698.1" width="20.45" height="29.2" fill="#ff8080"/>
<rect x="1783.53" y="698.1" width="20.45" height="29.2" fill="#ff5555"/>
<rect x="1806.88" y="698.1" width="20.45" height="29.2" fill="#ff8080"/>
<rect x="1830.23" y="698.1" width="20.45" height="29.2" fill="#ff8080"/>
<rect x="7.2" y="729.6" width="22.18" height="29.8" fill="#6060fc"/>
<rect x="32.27" y="729.6" width="20.45" height="29.8" fill="#8c8cfa"/>
<rect x="55.63" y="729.6" width="20.45" height="29.8" fill="#8c8cfa"/>
<rect x="78.98" y="729.6" width="20.45" height="29.8" fill="#8c8cfa"/>
<rect x="102.33" y="729.6" width="20.45" height="29.8" fill="#8c8cfa"/>
<rect x="125.68" y="729.6" width="20.45" height="29.8" fill="#8c8cfa"/>
<rect x="149.03" y="729.6" width="20.45" height="29.8" fill="#0000ff"/>
<rect x="172.38" y="729.6" width="20.45" height="29.8" fill="#3030ff"/>
<rect x="195.72" y="729.6" width="20.45" height="29.8" fill="#0000ff"/>
<rect x="219.07" y="729.6" width="20.45" height="29.8" fill="#3030ff"/>
<rect x="242.42" y="729.6" width="20.45" height="29.8" fill="#3030ff"/>
<rect x="265.77" y="729.6" width="20.45" height="29.8" fill="#8c8cfa"/>
<rect x="289.12" y="729.6" width="20.45" height="29.8" fill="#0000ff"/>
<rect x="312.47" y="729.6" width="20.45" height="29.8" fill="#3030ff"/>
<rect x="335.82" y="729.6" width="20.45" height="29.8" fill="#b9b9fc"/>
<rect x="359.17" y="729.6" width="20.45" height="29.8" fill="#0000ff"/>
<rect x="382.52" y="729.6" width="20.45" height="29.8" fill="#6060fc"/>
<rect x="405.88" y="729.6" width="20.45" height="29.8" fill="#8c8cfa"/>
<rect x="429.22" y="729.6" width="20.45" height="29.8" fill="#8c8cfa"/>
<rect x="452.57" y="729.6" width="20.45" height="29.8" fill="#6060fc"/>
<rect x="475.92" y="729.6" width="20.45" height="29.8" fill="#3030ff"/>
<rect x="499.27" y="729.6" width="20.45" height="29.8" fill="#3030ff"/>
<rect x="522.63" y="729.6" width="20.45" height="29.8" fill="#8c8cfa"/>
<rect x="545.98" y="729.6" width="20.45" height="29.8" fill="#cccccc"/>
<rect x="569.33" y="729.6" width="20.45" height="29.8" fill="#cccccc"/>
<rect x="592.68" y="729.6" width="20.45" height="29.8" fill="#cccccc"/>
<rect x="616.03" y="729.6" width="20.45" height="29.8" fill="#ffaaaa"/>
<rect x="639.38" y="729.6" width="20.45" height="29.8" fill="#cccccc"/>
<rect x="662.73" y="729.6" width="20.45" height="29.8" fill="#b9b9fc"/>
<rect x="686.08" y="729.6" width="20.45" height="29.8" fill="#ff8080"/>
<rect x="709.43" y="729.6" width="20.45" height="29.8" fill="#ff5555"/>
<rect x="732.78" y="729.6" width="20.45" height="29.8" fill="#ff2b2b"/>
<rect x="756.13" y="729.6" width="20.45" height="29.8" fill="#ffaaaa"/>
<rect x="779.48" y="729.6" width="20.45" height="29.8" fill="#ff8080"/>
<rect x="802.83" y="729.6" width="20.45" height="29.8" fill="#ff5555"/>
<rect x="826.18" y="729.6" width="20.45" height="29.8" fill="#ff5555"/>
<rect x="849.53" y="729.6" width="20.45" height="29.8" fill="#ff2b2b"/>
<rect x="872.88" y="729.6" width="20.45" height="29.8" fill="#ff2b2b"/>
<rect x="896.23" y="729.6" width="20.45" height="29.8" fill="#ff5555"/>
<rect x="919.58" y="729.6" width="20.45" height="29.8" fill="#ff5555"/>
<rect x="942.93" y="729.6" width="20.45" height="29.8" fill="#ff8080"/>
<rect x="966.28" y="729.6" width="20.45" height="29.8" fill="#ff5555"/>
<rect x="989.63" y="729.6" width="20.45" height="29.8" fill="#ff5555"/>
<rect x="1012.98" y="729.6" width="20.45" height="29.8" fill="#ff5555"/>
<rect x="1036.33" y="729.6" width="20.45" height="29.8" fill="#ff5555"/>
<rect x="1059.68" y="729.6" width="20.45" height="29.8" fill="#ff5555"/>
<rect x="1083.03" y="729.6" width="20.45" height="29.8" fill="#ff2b2b"/>
<rect x="1106.38" y="729.6" width="20.45" height="29.8" fill="#ff0000"/>
<rect x="1129.73" y="729.6" width="20.45" height="29.8" fill="#ff2b2b"/>
<rect x="1153.08" y="729.6" width="20.45" height="29.8" fill="#ff5555"/>
<rect x="1176.43" y="729.6" width="20.45" height="29.8" fill="#ff2b2b"/>
<rect x="1199.78" y="729.6" width="20.45" height="29.8" fill="#ff8080"/>
<rect x="1223.13" y="729.6" width="20.45" height="29.8" fill="#ff5555"/>
<rect x="1246.48" y="729.6" width="20.45" height="29.8" fill="#ff0000"/>
<rect x="1269.83" y="729.6" width="20.45" height="29.8" fill="#ff0000"/>
<rect x="1293.18" y="729.6" width="20.45" height="29.8" fill="#ff0000"/>
<rect x="1316.53" y="729.6" width="20.45" height="29.8" fill="#ff5555"/>
<rect x="1339.88" y="729.6" width="20.45" height="29.8" fill="#ff2b2b"/>
<rect x="1363.23" y="729.6" width="20.45" height="29.8" fill="#ff2b2b"/>
<rect x="1386.58" y="729.6" width="20.45" height="29.8" fill="#ff2b2b"/>
<rect x="1409.93" y="729.6" width="20.45" height="29.8" fill="#ff5555"/>
<rect x="1433.28" y="729.6" width="20.45" height="29.8" fill="#ff5555"/>
<rect x="1456.63" y="729.6" width="20.45" height="29.8" fill="#ff5555"/>
<rect x="1479.98" y="729.6" width="20.45" height="29.8" fill="#ff8080"/>
<rect x="1503.33" y="729.6" width="20.45" height="29.8" fill="#ff5555"/>
<rect x="1526.68" y="729.6" width="20.45" height="29.8" fill="#ff0000"/>
<rect x="1550.03" y="729.6" width="20.45" height="29.8" fill="#ff0000"/>
<rect x="1573.38" y="729.6" width="20.45" height="29.8" fill="#ff2b2b"/>
<rect x="1596.73" y="729.6" width="20.45" height="29.8" fill="#ff0000"/>
<rect x="1620.08" y="729.6" width="20.45" height="29.8" fill="#ff8080"/>
<rect x="1643.43" y="729.6" width="20.45" height="29.8" fill="#ff8080"/>
<rect x="1666.78" y="729.6" width="20.45" height="29.8" fill="#ff5555"/>
<rect x="1690.13" y="729.6" width="20.45" height="29.8" fill="#ff5555"/>
<rect x="1713.48" y="729.6" width="20.45" height="29.8" fill="#ff5555"/>
<rect x="1736.83" y="729.6" width="20.45" height="29.8" fill="#ff0000"/>
<rect x="1760.18" y="729.6" width="20.45" height="29.8" fill="#ff5555"/>
<rect x="1783.53" y="729.6" width="20.45" height="29.8" fill="#ff2b2b"/>
<rect x="1806.88" y="729.6" width="20.45" height="29.8" fill="#ff5555"/>
<rect x="1830.23" y="729.6" width="20.45" height="29.8" fill="#ff2b2b"/>
</g>
<text x="1860.5" y="655.6" font-size="22.2">CHS</text>
<text x="1860.5" y="688.25" font-size="22.2">SSS</text>
<text x="1860.5" y="720.5" font-size="22.2">Human (DE)</text>
<text x="1860.5" y="752.3" font-size="22.2">Human (SE)</text>
<g class="lab" font-size="22.35" text-anchor="end">
<text transform="translate(26.45 769.8) rotate(-90)">GABAergic synapse</text>
<text transform="translate(49.8 769.8) rotate(-90)">Circadian entrainment</text>
<text transform="translate(73.15 769.8) rotate(-90)">Salivary secretion</text>
<text transform="translate(96.5 769.8) rotate(-90)">Cholinergic synapse</text>
<text transform="translate(119.85 769.8) rotate(-90)">Wnt signaling pathway</text>
<text transform="translate(143.2 769.8) rotate(-90)">Retrograde endocannabinoid signaling</text>
<text transform="translate(166.55 769.8) rotate(-90)">Regulation of lipolysis in adipocytes</text>
<text transform="translate(189.9 769.8) rotate(-90)">Aldosterone synthesis and secretion</text>
<text transform="translate(213.25 769.8) rotate(-90)">Melanogenesis</text>
<text transform="translate(236.6 769.8) rotate(-90)">Fatty acid degradation</text>
<text transform="translate(259.95 769.8) rotate(-90)">Cardiac muscle contraction</text>
<text transform="translate(283.3 769.8) rotate(-90)">Valine, leucine and isoleucine degradation</text>
<text transform="translate(306.65 769.8) rotate(-90)">Lysine degradation</text>
<text transform="translate(330 769.8) rotate(-90)">Butanoate metabolism</text>
<text transform="translate(353.35 769.8) rotate(-90)">Notch signaling pathway</text>
<text transform="translate(376.7 769.8) rotate(-90)">Metabolism of xenobiotics by cytochrome P450</text>
<text transform="translate(400.05 769.8) rotate(-90)">Synthesis and degradation of ketone bodies</text>
<text transform="translate(423.4 769.8) rotate(-90)">Adherens junction</text>
<text transform="translate(446.75 769.8) rotate(-90)">Tyrosine metabolism</text>
<text transform="translate(470.1 769.8) rotate(-90)">Drug metabolism − cytochrome P450</text>
<text transform="translate(493.45 769.8) rotate(-90)">Aldosterone−regulated sodium reabsorption</text>
<text transform="translate(516.8 769.8) rotate(-90)">Retinol metabolism</text>
<text transform="translate(540.15 769.8) rotate(-90)">Steroid hormone biosynthesis</text>
<text transform="translate(563.5 769.8) rotate(-90)">Metabolic pathways</text>
<text transform="translate(586.85 769.8) rotate(-90)">Sphingolipid metabolism</text>
<text transform="translate(610.2 769.8) rotate(-90)">Histidine metabolism</text>
<text transform="translate(633.55 769.8) rotate(-90)">Glycerolipid metabolism</text>
<text transform="translate(656.9 769.8) rotate(-90)">Glycolysis / Gluconeogenesis</text>
<text transform="translate(680.25 769.8) rotate(-90)">AMPK signaling pathway</text>
<text transform="translate(703.6 769.8) rotate(-90)">Starch and sucrose metabolism</text>
<text transform="translate(726.95 769.8) rotate(-90)">Glycosphingolipid biosynthesis − globo and isoglobo series</text>
<text transform="translate(750.3 769.8) rotate(-90)">Pancreatic secretion</text>
<text transform="translate(773.65 769.8) rotate(-90)">Glycosphingolipid biosynthesis − lacto and neolacto series</text>
<text transform="translate(797 769.8) rotate(-90)">Relaxin signaling pathway</text>
<text transform="translate(820.35 769.8) rotate(-90)">Pentose and glucuronate interconversions</text>
<text transform="translate(843.7 769.8) rotate(-90)">Non−homologous end−joining</text>
<text transform="translate(867.05 769.8) rotate(-90)">Cell cycle</text>
<text transform="translate(890.4 769.8) rotate(-90)">DNA replication</text>
<text transform="translate(913.75 769.8) rotate(-90)">Ether lipid metabolism</text>
<text transform="translate(937.1 769.8) rotate(-90)">Progesterone−mediated oocyte maturation</text>
<text transform="translate(960.45 769.8) rotate(-90)">Endocytosis</text>
<text transform="translate(983.8 769.8) rotate(-90)">Phenylalanine, tyrosine and tryptophan biosynthesis</text>
<text transform="translate(1007.15 769.8) rotate(-90)">Th17 cell differentiation</text>
<text transform="translate(1030.5 769.8) rotate(-90)">RNA transport</text>
<text transform="translate(1053.85 769.8) rotate(-90)">Ribosome biogenesis in eukaryotes</text>
<text transform="translate(1077.2 769.8) rotate(-90)">Th1 and Th2 cell differentiation</text>
<text transform="translate(1100.55 769.8) rotate(-90)">Antigen processing and presentation</text>
<text transform="translate(1123.9 769.8) rotate(-90)">Cellular senescence</text>
<text transform="translate(1147.25 769.8) rotate(-90)">Fructose and mannose metabolism</text>
<text transform="translate(1170.6 769.8) rotate(-90)">Prolactin signaling pathway</text>
<text transform="translate(1193.95 769.8) rotate(-90)">Oocyte meiosis</text>
<text transform="translate(1217.3 769.8) rotate(-90)">MAPK signaling pathway</text>
<text transform="translate(1240.65 769.8) rotate(-90)">Intestinal immune network for IgA production</text>
<text transform="translate(1264 769.8) rotate(-90)">NOD−like receptor signaling pathway</text>
<text transform="translate(1287.35 769.8) rotate(-90)">Galactose metabolism</text>
<text transform="translate(1310.7 769.8) rotate(-90)">Purine metabolism</text>
<text transform="translate(1334.05 769.8) rotate(-90)">Osteoclast differentiation</text>
<text transform="translate(1357.4 769.8) rotate(-90)">Hematopoietic cell lineage</text>
<text transform="translate(1380.75 769.8) rotate(-90)">Cytokine−cytokine receptor interaction</text>
<text transform="translate(1404.1 769.8) rotate(-90)">Chemokine signaling pathway</text>
<text transform="translate(1427.45 769.8) rotate(-90)">Natural killer cell mediated cytotoxicity</text>
<text transform="translate(1450.8 769.8) rotate(-90)">C−type lectin receptor signaling pathway</text>
<text transform="translate(1474.15 769.8) rotate(-90)">Arginine and proline metabolism</text>
<text transform="translate(1497.5 769.8) rotate(-90)">Amino sugar and nucleotide sugar metabolism</text>
<text transform="translate(1520.85 769.8) rotate(-90)">Phagosome</text>
<text transform="translate(1544.2 769.8) rotate(-90)">Aminoacyl−tRNA biosynthesis</text>
<text transform="translate(1567.55 769.8) rotate(-90)">Proteasome</text>
<text transform="translate(1590.9 769.8) rotate(-90)">p53 signaling pathway</text>
<text transform="translate(1614.25 769.8) rotate(-90)">Pyrimidine metabolism</text>
<text transform="translate(1637.6 769.8) rotate(-90)">Apoptosis − multiple species</text>
<text transform="translate(1660.95 769.8) rotate(-90)">Folate biosynthesis</text>
<text transform="translate(1684.3 769.8) rotate(-90)">Toll−like receptor signaling pathway</text>
<text transform="translate(1707.65 769.8) rotate(-90)">Cytosolic DNA−sensing pathway</text>
<text transform="translate(1731 769.8) rotate(-90)">RIG−I−like receptor signaling pathway</text>
<text transform="translate(1754.35 769.8) rotate(-90)">IL−17 signaling pathway</text>
<text transform="translate(1777.7 769.8) rotate(-90)">Necroptosis</text>
<text transform="translate(1801.05 769.8) rotate(-90)">TNF signaling pathway</text>
<text transform="translate(1824.4 769.8) rotate(-90)">NF−kappa B signaling pathway</text>
<text transform="translate(1847.75 769.8) rotate(-90)">Apoptosis</text>
</g>
<path d="M19.25 627.8 V624.6 H42.6 V627.8 M65.95 627.8 V624.6 H89.3 V627.8 M30.93 624.6 V617.8 H77.62 V624.6 M112.65 627.8 V617.8 H136 V627.8 M54.27 617.8 V608.3 H124.33 V617.8 M159.35 627.8 V624.6 H182.7 V627.8 M171.03 624.6 V617.8 H206.05 V627.8 M89.3 608.3 V601.5 H188.54 V617.8 M229.4 627.8 V624.6 H252.75 V627.8 M241.07 624.6 V615 H276.1 V627.8 M258.59 615 V604.7 H299.45 V627.8 M138.92 601.5 V588.6 H279.02 V604.7 M322.8 627.8 V611.5 H346.15 V627.8 M369.5 627.8 V611.5 H392.85 V627.8 M416.2 627.8 V618 H439.55 V627.8 M381.18 611.5 V605.3 H427.88 V618 M404.52 605.3 V604.7 H462.9 V627.8 M486.25 627.8 V621.2 H509.6 V627.8 M497.93 621.2 V611.5 H532.95 V627.8 M433.71 604.7 V594.8 H515.44 V611.5 M603 627.8 V621.2 H626.35 V627.8 M579.65 627.8 V618 H614.67 V621.2 M556.3 627.8 V611.5 H597.16 V618 M474.57 594.8 V588.3 H576.73 V611.5 M334.48 611.5 V572.2 H525.65 V588.3 M208.97 588.6 V559.1 H430.06 V572.2 M649.7 627.8 V618 H673.05 V627.8 M696.4 627.8 V614.9 H719.75 V627.8 M708.08 614.9 V608.5 H743.1 V627.8 M661.38 618 V601.4 H725.59 V608.5 M789.8 627.8 V618 H813.15 V627.8 M766.45 627.8 V614.9 H801.48 V618 M693.48 601.4 V598.4 H783.96 V614.9 M906.55 627.8 V625 H929.9 V627.8 M883.2 627.8 V617.6 H918.23 V625 M859.85 627.8 V618.1 H900.71 V617.6 M836.5 627.8 V608.5 H880.28 V618.1 M976.6 627.8 V621.2 H999.95 V627.8 M953.25 627.8 V618 H988.28 V621.2 M1023.3 627.8 V624.6 H1046.65 V627.8 M970.76 618 V608.5 H1034.98 V624.6 M1070 627.8 V618 H1093.35 V627.8 M1116.7 627.8 V618 H1140.05 V627.8 M1163.4 627.8 V618 H1186.75 V627.8 M1128.38 618 V611.5 H1175.08 V618 M1081.68 618 V601.8 H1151.72 V611.5 M1002.87 608.5 V598.4 H1116.7 V601.8 M858.39 608.5 V588.3 H1059.78 V598.4 M738.72 598.4 V569.2 H959.09 V588.3 M1210.1 627.8 V614.9 H1233.45 V627.8 M1280.15 627.8 V624.6 H1303.5 V627.8 M1256.8 627.8 V614.9 H1291.83 V624.6 M1373.55 627.8 V627.6 H1396.9 V627.8 M1350.2 627.8 V624.6 H1385.23 V627.6 M1326.85 627.8 V621.2 H1367.71 V624.6 M1420.25 627.8 V624.6 H1443.6 V627.8 M1490.3 627.8 V624.6 H1513.65 V627.8 M1466.95 627.8 V621.2 H1501.98 V624.6 M1431.93 624.6 V618 H1484.46 V621.2 M1347.28 621.2 V614.9 H1458.19 V618 M1274.31 614.9 V608.5 H1402.74 V614.9 M1221.78 614.9 V598.4 H1338.53 V608.5 M1537 627.8 V618 H1560.35 V627.8 M1583.7 627.8 V618 H1607.05 V627.8 M1548.68 618 V611.5 H1595.38 V618 M1677.1 627.8 V624.6 H1700.45 V627.8 M1653.75 627.8 V614.9 H1688.78 V624.6 M1723.8 627.8 V618 H1747.15 V627.8 M1817.2 627.8 V624.6 H1840.55 V627.8 M1793.85 627.8 V621.2 H1828.88 V624.6 M1770.5 627.8 V618 H1811.36 V621.2 M1735.48 618 V611.5 H1790.93 V618 M1671.26 614.9 V605.3 H1763.2 V611.5 M1630.4 627.8 V604.6 H1717.23 V605.3 M1572.03 611.5 V588.5 H1673.82 V604.6 M1280.15 598.4 V582.3 H1622.92 V588.5 M848.9 569.2 V559.1 H1451.54 V582.3 M319.52 559.1 V519.6 H1150.22 V559.1" fill="none" stroke="#000" stroke-width="2.1" stroke-linejoin="round" stroke-linecap="round"/>
</svg>
</body></html>
